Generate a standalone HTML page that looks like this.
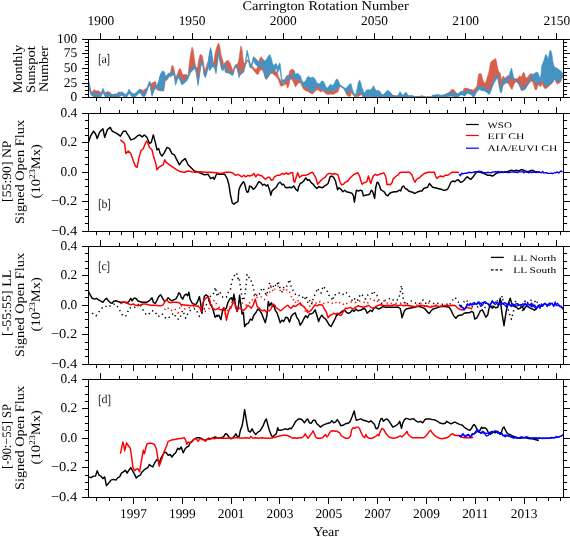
<!DOCTYPE html>
<html><head><meta charset="utf-8"><style>html,body{margin:0;padding:0;background:#fff;}body{width:570px;height:537px;overflow:hidden;}svg{will-change:transform;text-rendering:geometricPrecision;}</style></head><body>
<svg width="570" height="537" viewBox="0 0 570 537" style="font-family:'Liberation Serif',serif;display:block">
<rect width="570" height="537" fill="#fff"/>
<clipPath id="cpa"><rect x="88.5" y="39.08" width="475.0" height="58.84"/></clipPath>
<clipPath id="cpb"><rect x="88.5" y="113.42" width="475.0" height="117.67999999999999"/></clipPath>
<clipPath id="cpc"><rect x="88.5" y="246.42" width="475.0" height="117.68000000000004"/></clipPath>
<clipPath id="cpd"><rect x="88.5" y="379.42" width="475.0" height="117.68"/></clipPath>
<g clip-path="url(#cpa)">
<polygon points="88.5,82.7 89.0,83.9 89.5,86.3 90.0,88.7 90.5,91.0 91.0,93.3 91.5,93.5 92.0,92.5 92.5,91.5 93.0,90.7 93.5,90.2 94.0,89.7 94.5,89.8 95.0,90.2 95.5,90.5 96.0,90.8 96.5,90.8 97.0,90.8 97.5,90.8 98.0,90.8 98.5,90.8 99.0,91.2 99.5,91.5 100.0,91.8 100.5,92.3 101.0,93.1 101.5,93.8 102.0,92.4 102.5,90.7 103.0,90.0 103.5,91.3 104.0,92.5 104.5,92.9 105.0,92.8 105.5,92.6 106.0,92.3 106.5,92.1 107.0,91.8 107.5,91.6 108.0,91.5 108.5,91.7 109.0,91.8 109.5,92.0 110.0,92.6 110.5,93.3 111.0,94.0 111.5,94.1 112.0,94.3 112.5,94.5 113.0,94.6 113.5,94.6 114.0,94.7 114.5,94.8 115.0,94.8 115.5,94.7 116.0,94.7 116.5,94.6 117.0,94.6 117.5,93.8 118.0,92.8 118.5,91.7 119.0,91.7 119.5,92.0 120.0,92.5 120.5,93.1 121.0,93.7 121.5,93.8 122.0,93.6 122.5,93.9 123.0,94.3 123.5,94.6 124.0,94.8 124.5,95.0 125.0,95.2 125.5,95.4 126.0,95.5 126.5,95.2 127.0,94.9 127.5,94.2 128.0,93.2 128.5,92.0 129.0,90.8 129.5,91.6 130.0,92.3 130.5,93.1 131.0,93.8 131.5,94.1 132.0,94.3 132.5,94.3 133.0,94.3 133.5,94.3 134.0,94.3 134.5,94.3 135.0,93.9 135.5,93.5 136.0,93.0 136.5,92.6 137.0,92.1 137.5,91.7 138.0,91.2 138.5,90.8 139.0,90.3 139.5,89.9 140.0,89.5 140.5,89.2 141.0,89.1 141.5,89.6 142.0,90.1 142.5,90.6 143.0,90.6 143.5,90.3 144.0,89.9 144.5,89.6 145.0,89.3 145.5,88.9 146.0,88.6 146.5,88.2 147.0,87.7 147.5,87.2 148.0,86.7 148.5,85.2 149.0,83.9 149.5,83.4 150.0,82.9 150.5,84.2 151.0,83.8 151.5,83.5 152.0,83.1 152.5,82.8 153.0,82.5 153.5,82.3 154.0,82.1 154.5,81.8 155.0,81.9 155.5,82.0 156.0,82.1 156.0,84.1 156.5,85.7 157.0,86.8 157.5,85.8 158.0,84.8 158.5,83.8 159.0,82.3 159.5,80.3 160.0,78.3 160.5,76.3 161.0,75.2 161.5,74.4 162.0,73.5 162.5,72.8 163.0,72.9 163.5,73.1 164.0,73.3 164.5,74.0 165.0,76.0 165.5,78.0 166.0,77.9 166.5,77.4 167.0,76.9 167.5,76.1 168.0,75.4 168.5,75.0 169.0,74.8 169.5,74.7 170.0,73.8 170.5,72.3 171.0,69.8 171.5,67.0 172.0,65.4 172.5,65.6 173.0,65.9 173.5,67.4 174.0,69.2 174.5,71.3 175.0,74.1 175.5,76.8 176.0,76.4 176.5,75.7 177.0,74.7 177.5,73.4 178.0,72.0 178.5,70.7 179.0,69.8 179.5,69.0 180.0,68.5 180.5,69.3 181.0,70.0 181.5,71.5 182.0,73.2 182.5,74.6 183.0,74.6 183.5,74.6 184.0,74.6 184.5,74.6 185.0,74.6 185.5,74.6 186.0,74.6 186.5,74.6 187.0,75.3 187.5,76.8 188.0,76.8 188.5,71.7 189.0,65.7 189.5,62.0 190.0,58.3 190.5,54.7 191.0,52.2 191.5,49.7 192.0,47.2 192.5,47.9 193.0,49.7 193.5,52.0 194.0,56.0 194.5,60.0 195.0,62.9 195.5,65.4 196.0,67.3 196.5,67.7 197.0,68.1 197.5,67.5 198.0,64.5 198.5,61.5 199.0,58.9 199.5,56.4 200.0,54.7 200.5,54.7 201.0,54.7 201.5,54.9 202.0,55.5 202.5,56.9 203.0,59.9 203.5,62.9 204.0,65.9 204.5,68.9 205.0,70.4 205.5,68.9 206.0,67.4 206.5,65.9 207.0,64.4 207.5,63.0 208.0,62.0 208.5,61.0 209.0,57.4 209.5,54.2 210.0,51.4 210.5,49.3 211.0,51.1 211.5,52.8 212.0,56.9 212.5,62.0 213.0,62.7 213.5,63.3 214.0,60.2 214.5,56.7 215.0,53.8 215.5,51.8 216.0,49.8 216.5,47.8 217.0,46.4 217.5,45.2 218.0,44.1 218.5,42.9 219.0,44.0 219.5,45.3 220.0,47.6 220.5,51.1 221.0,54.6 221.5,56.3 222.0,58.0 222.5,59.6 223.0,61.4 223.5,63.6 224.0,65.7 224.5,64.9 225.0,64.4 225.0,63.1 225.5,62.4 226.0,61.6 226.5,60.9 227.0,60.7 227.5,60.6 228.0,60.4 228.5,60.5 229.0,61.4 229.5,62.2 230.0,63.0 230.5,64.1 231.0,65.5 231.5,66.8 232.0,68.1 232.5,69.6 233.0,71.1 233.5,71.5 234.0,69.5 234.5,67.5 235.0,66.6 235.5,65.9 236.0,65.3 236.5,64.6 237.0,64.1 237.5,63.6 238.0,63.1 238.5,61.6 239.0,58.4 239.5,55.1 240.0,51.5 240.5,47.7 241.0,46.0 241.5,47.7 242.0,49.5 242.5,53.6 243.0,58.1 243.5,61.4 244.0,62.5 244.5,63.7 245.0,64.9 245.5,64.3 246.0,62.8 246.5,61.3 247.0,59.8 247.5,60.0 248.0,60.3 248.5,60.6 249.0,61.1 249.5,62.3 250.0,63.4 250.5,64.6 251.0,65.4 251.5,65.8 252.0,66.1 252.5,66.4 253.0,66.9 253.5,67.4 254.0,67.9 254.5,68.4 255.0,68.7 255.5,69.0 256.0,69.4 256.5,69.3 257.0,68.0 257.5,66.7 258.0,65.3 258.5,63.5 259.0,61.3 259.5,59.0 260.0,58.4 260.5,57.7 261.0,57.0 261.5,56.8 262.0,57.8 262.5,58.8 263.0,59.6 263.5,60.4 264.0,61.4 264.5,63.0 265.0,64.7 265.5,66.4 266.0,67.7 266.5,68.7 267.0,69.7 267.5,70.7 268.0,70.9 268.5,70.9 269.0,70.8 269.5,70.4 270.0,70.1 270.5,69.8 271.0,69.2 271.5,68.6 272.0,67.9 272.5,67.2 273.0,67.6 273.5,68.1 274.0,68.7 274.5,69.7 275.0,70.7 275.5,71.2 276.0,71.5 276.5,71.8 277.0,72.3 277.5,73.6 278.0,75.0 278.5,76.3 279.0,77.5 279.5,78.5 280.0,79.5 280.5,80.5 281.0,81.3 281.5,81.9 282.0,82.6 282.5,83.3 283.0,83.6 283.5,83.8 284.0,83.4 284.5,82.2 285.0,80.9 285.5,79.0 286.0,77.0 286.5,76.3 287.0,77.3 287.5,78.3 288.0,79.3 288.5,77.5 289.0,74.5 289.5,71.9 290.0,70.9 290.5,69.9 291.0,69.5 291.5,69.3 292.0,69.2 292.5,69.0 293.0,69.5 293.5,70.0 294.0,70.9 294.0,76.9 294.5,77.9 295.0,79.4 295.5,80.8 296.0,80.3 296.5,79.8 297.0,79.6 297.5,79.6 298.0,79.6 298.5,79.6 299.0,79.9 299.5,80.2 300.0,80.5 300.5,80.9 301.0,81.9 301.5,82.9 302.0,83.7 302.5,84.4 303.0,85.0 303.5,85.7 304.0,86.1 304.5,86.4 305.0,86.8 305.5,87.1 306.0,87.4 306.5,87.8 307.0,88.1 307.5,88.5 308.0,89.0 308.5,89.5 309.0,89.8 309.5,90.2 310.0,90.5 310.5,90.8 311.0,91.2 311.5,91.5 312.0,91.8 312.5,91.9 313.0,91.6 313.5,91.3 314.0,90.9 314.5,89.5 315.0,87.5 315.5,85.8 316.0,85.8 316.5,85.8 317.0,86.2 317.5,86.7 318.0,87.1 318.5,87.5 319.0,87.8 319.5,88.1 320.0,88.6 320.5,89.3 321.0,89.9 321.5,90.6 322.0,90.6 322.5,90.2 323.0,89.9 323.5,89.6 324.0,89.1 324.5,88.6 325.0,88.8 325.5,89.8 326.0,90.8 326.5,91.3 327.0,91.8 327.5,91.9 328.0,91.6 328.5,91.2 329.0,90.9 329.5,90.8 330.0,90.8 330.5,90.9 331.0,91.0 331.5,91.2 332.0,91.4 332.5,91.3 333.0,91.2 333.5,91.0 334.0,90.8 334.5,90.5 335.0,90.2 335.5,89.9 336.0,89.5 336.5,89.3 337.0,89.0 337.5,88.7 338.0,88.2 338.5,87.6 339.0,86.9 339.5,86.1 340.0,86.0 340.5,86.4 341.0,86.2 341.5,85.9 342.0,86.2 342.5,86.7 343.0,87.2 343.5,87.7 344.0,88.2 344.5,89.6 345.0,90.4 345.5,91.1 346.0,91.7 346.5,92.4 347.0,93.1 347.5,93.1 348.0,92.8 348.5,92.4 349.0,92.1 349.5,91.2 350.0,90.2 350.5,89.2 351.0,88.6 351.5,90.1 352.0,91.6 352.5,92.7 353.0,93.7 353.5,94.6 354.0,95.1 354.5,95.6 355.0,95.7 355.5,95.6 356.0,95.5 356.5,95.1 357.0,94.7 357.5,94.0 358.0,93.3 358.5,92.7 359.0,93.0 359.5,93.2 360.0,93.5 360.5,93.7 361.0,94.0 361.5,94.2 362.0,94.5 362.5,94.5 363.0,94.5 432.0,96.9 432.5,96.8 433.0,96.8 433.5,96.7 434.0,96.7 434.5,96.6 435.0,96.5 435.5,96.5 436.0,96.4 436.5,96.4 437.0,96.2 437.5,96.1 438.0,96.1 438.5,96.3 439.0,96.5 439.5,96.6 440.0,96.4 440.5,96.2 441.0,96.0 441.5,95.8 442.0,95.6 442.5,95.4 443.0,95.2 443.5,95.0 444.0,94.8 444.5,94.6 445.0,94.4 445.5,94.1 446.0,93.9 446.5,93.6 447.0,93.4 447.5,93.1 448.0,92.9 448.5,92.6 449.0,92.4 449.5,92.1 450.0,91.6 450.5,91.0 451.0,90.3 451.5,89.6 452.0,89.5 452.5,89.4 453.0,89.3 453.5,89.6 454.0,90.1 454.5,90.6 455.0,91.3 455.5,91.9 456.0,92.6 456.5,93.3 457.0,93.6 457.5,93.9 458.0,94.3 458.5,94.5 459.0,94.1 459.5,93.7 460.0,93.3 460.5,93.0 461.0,92.6 461.5,92.5 462.0,92.3 462.5,92.1 463.0,91.3 463.5,89.8 464.0,88.3 464.5,88.3 465.0,88.2 465.5,88.1 466.0,88.1 466.5,88.2 467.0,88.2 467.5,88.3 468.0,88.5 468.5,88.7 469.0,89.0 469.5,89.3 470.0,89.4 470.5,89.4 471.0,89.5 471.5,89.6 472.0,89.7 472.5,89.9 473.0,90.1 473.5,90.0 474.0,89.5 474.5,89.0 475.0,88.5 475.5,87.9 476.0,87.3 476.5,86.6 477.0,85.9 477.5,82.1 478.0,77.6 478.5,74.5 479.0,74.1 479.5,73.6 480.0,73.4 480.5,73.6 481.0,73.8 481.5,74.2 482.0,76.5 482.5,78.7 483.0,80.3 483.5,81.5 484.0,82.6 484.5,83.2 485.0,82.8 485.5,82.3 486.0,81.4 486.5,79.8 487.0,78.1 487.5,76.4 488.0,74.9 488.5,73.4 489.0,71.6 489.5,68.6 490.0,65.5 490.5,62.4 491.0,61.8 491.5,61.4 492.0,60.9 492.5,60.6 493.0,60.3 493.5,59.9 494.0,59.6 494.5,59.2 495.0,58.8 495.5,58.4 496.0,59.8 496.5,61.5 497.0,64.5 497.5,67.5 498.0,69.5 498.5,71.0 499.0,72.2 499.5,72.4 500.0,72.7 500.5,73.7 500.5,74.6 501.0,77.1 501.5,79.6 502.0,78.6 502.5,77.6 503.0,76.6 503.5,76.1 504.0,77.1 504.5,78.1 505.0,78.1 505.5,77.8 506.0,77.4 506.5,77.1 507.0,76.3 507.5,75.6 508.0,75.5 508.5,76.0 509.0,76.5 509.5,77.0 510.0,77.1 510.5,77.1 511.0,77.1 511.5,77.1 512.0,77.5 512.5,77.9 513.0,78.3 513.5,78.6 514.0,79.0 514.5,78.9 515.0,78.8 515.5,78.7 516.0,78.6 516.5,78.5 517.0,78.5 517.5,78.4 518.0,77.9 518.5,77.3 519.0,76.6 519.5,75.9 520.0,76.2 520.5,76.5 521.0,76.8 521.5,76.9 522.0,75.6 522.5,74.2 523.0,72.9 523.5,72.3 524.0,72.8 524.5,73.3 525.0,75.2 525.5,77.2 526.0,78.2 526.5,77.9 527.0,77.5 527.5,77.2 528.0,76.6 528.5,76.0 529.0,75.3 529.5,74.6 530.0,74.3 530.5,74.0 531.0,73.6 531.5,73.5 532.0,74.0 532.5,74.5 533.0,75.4 533.5,76.4 534.0,77.4 534.5,78.4 535.0,79.0 535.5,79.7 536.0,80.4 536.5,80.8 537.0,80.8 537.5,80.8 538.0,80.8 538.5,80.8 539.0,80.8 539.5,80.8 540.0,80.8 540.5,80.8 541.0,80.8 541.5,80.8 542.0,80.7 542.5,80.5 543.0,80.4 543.5,80.2 544.0,80.1 544.5,79.9 545.0,79.8 545.5,79.6 546.0,79.5 546.5,79.3 547.0,79.2 547.5,79.0 548.0,78.9 548.5,78.7 549.0,78.6 549.5,78.4 550.0,78.3 550.5,78.2 551.0,78.0 551.5,77.9 552.0,77.7 552.5,77.6 553.0,77.4 553.5,77.3 554.0,77.1 554.5,77.0 555.0,76.8 555.5,76.7 556.0,76.5 556.5,76.4 557.0,76.2 557.5,76.1 558.0,75.9 558.5,75.8 559.0,75.7 559.5,75.5 560.0,75.4 560.5,75.2 561.0,75.1 561.5,74.9 562.0,74.8 562.5,74.6 563.0,74.6 563.5,74.6 563.5,77.1 563.0,77.1 562.5,77.2 562.0,78.2 561.5,79.6 561.0,81.1 560.5,82.2 560.0,82.5 559.5,82.9 559.0,83.2 558.5,83.4 558.0,83.6 557.5,83.8 557.0,83.9 556.5,83.1 556.0,82.1 555.5,81.1 555.0,80.1 554.5,79.1 554.0,80.1 553.5,81.3 553.0,82.3 552.5,82.8 552.0,83.3 551.5,83.8 551.0,84.3 550.5,84.8 550.0,85.3 549.5,85.8 549.0,86.1 548.5,86.5 548.0,86.8 547.5,87.2 547.0,87.7 546.5,88.2 546.0,88.7 545.5,88.8 545.0,88.6 544.5,88.3 544.0,87.4 543.5,86.4 543.0,85.4 542.5,84.4 542.0,83.4 541.5,84.8 541.0,86.3 540.5,86.8 540.0,86.3 539.5,85.8 539.0,85.3 538.5,84.8 538.0,85.3 537.5,86.8 537.0,88.3 536.5,89.8 536.0,90.0 535.5,89.8 535.0,89.2 534.5,87.5 534.0,85.8 533.5,84.2 533.0,82.8 532.5,81.8 532.0,80.8 531.5,81.2 531.0,81.5 530.5,81.8 530.0,82.3 529.5,82.9 529.0,83.6 528.5,84.3 528.0,84.9 527.5,85.6 527.0,86.3 526.5,86.9 526.0,87.6 525.5,88.3 525.0,88.9 524.5,89.6 524.0,89.9 523.5,90.3 523.0,90.6 522.5,90.6 522.0,89.9 521.5,89.3 521.0,88.6 520.5,87.7 520.0,86.7 519.5,85.7 519.0,84.7 518.5,84.0 518.0,83.3 517.5,82.7 517.0,82.1 516.5,82.1 516.0,82.1 515.5,82.1 515.0,82.5 514.5,83.5 514.0,84.5 513.5,85.5 513.0,86.8 512.5,88.3 512.0,89.5 511.5,89.0 511.0,88.5 510.5,87.6 510.0,86.6 509.5,85.6 509.0,84.6 508.5,84.1 508.0,83.6 507.5,83.1 507.0,82.7 506.5,82.9 506.0,83.1 505.5,83.2 505.0,83.6 504.5,84.1 504.0,84.6 503.5,85.1 503.0,85.6 502.5,86.5 502.0,87.8 501.5,89.1 501.0,90.5 500.5,89.8 500.5,90.8 500.0,88.8 499.5,86.8 499.0,83.9 498.5,80.1 498.0,78.0 497.5,77.2 497.0,76.5 496.5,77.3 496.0,78.0 495.5,78.8 495.0,79.6 494.5,80.5 494.0,81.3 493.5,82.4 493.0,83.6 492.5,84.7 492.0,85.9 491.5,87.4 491.0,88.9 490.5,90.4 490.0,91.6 489.5,92.1 489.0,92.6 488.5,92.3 488.0,91.8 487.5,91.3 487.0,90.8 486.5,90.4 486.0,90.1 485.5,89.8 485.0,89.5 484.5,89.3 484.0,89.2 483.5,89.0 483.0,88.9 482.5,88.9 482.0,88.9 481.5,88.9 481.0,88.6 480.5,88.2 480.0,87.8 479.5,87.8 479.0,88.0 478.5,88.2 478.0,88.8 477.5,89.4 477.0,90.1 476.5,90.8 476.0,91.7 475.5,92.7 475.0,93.6 474.5,94.4 474.0,95.0 473.5,95.6 473.0,95.3 472.5,94.5 472.0,93.8 471.5,93.4 471.0,93.0 470.5,92.6 470.0,92.4 469.5,92.2 469.0,92.1 468.5,91.9 468.0,91.7 467.5,91.5 467.0,91.9 466.5,92.5 466.0,93.1 465.5,93.6 465.0,94.0 464.5,94.4 464.0,94.3 463.5,93.9 463.0,93.5 462.5,93.3 462.0,93.2 461.5,93.1 461.0,93.1 460.5,93.4 460.0,93.8 459.5,94.2 459.0,94.6 458.5,94.9 458.0,95.2 457.5,95.6 457.0,95.8 456.5,95.6 456.0,95.5 455.5,95.4 455.0,95.3 454.5,95.1 454.0,95.0 453.5,94.9 453.0,94.8 452.5,94.6 452.0,94.5 451.5,94.5 451.0,94.5 450.5,94.5 450.0,94.5 449.5,94.6 449.0,94.8 448.5,95.0 448.0,95.2 447.5,95.4 447.0,95.6 446.5,95.8 446.0,95.9 445.5,96.1 445.0,96.3 444.5,96.4 444.0,96.6 443.5,96.8 443.0,96.8 442.5,96.8 442.0,96.8 441.5,96.8 441.0,96.8 440.5,96.8 440.0,96.8 439.5,96.7 439.0,96.8 438.5,97.0 438.0,96.9 437.5,96.8 437.0,96.7 436.5,96.5 436.0,96.5 435.5,96.6 435.0,96.7 434.5,96.8 434.0,96.8 433.5,96.9 433.0,96.9 432.5,96.9 432.0,97.0 363.0,95.9 362.5,95.6 362.0,95.3 361.5,95.0 361.0,94.6 360.5,94.9 360.0,95.4 359.5,95.9 359.0,96.4 358.5,96.5 358.0,96.6 357.5,96.6 357.0,96.7 356.5,96.8 356.0,96.8 355.5,96.8 355.0,96.8 354.5,96.6 354.0,96.0 353.5,95.4 353.0,94.8 352.5,94.0 352.0,93.0 351.5,92.2 351.0,94.0 350.5,95.7 350.0,96.4 349.5,96.4 349.0,96.4 348.5,96.4 348.0,96.0 347.5,95.5 347.0,95.0 346.5,94.4 346.0,93.4 345.5,92.4 345.0,91.1 344.5,89.7 344.0,89.1 343.5,88.4 343.0,88.0 342.5,87.7 342.0,87.4 341.5,87.0 341.0,86.7 340.5,86.5 340.0,86.9 339.5,87.6 339.0,89.0 338.5,90.3 338.0,91.6 337.5,92.2 337.0,92.5 336.5,92.7 336.0,93.0 335.5,93.2 335.0,93.5 334.5,93.7 334.0,94.0 333.5,94.2 333.0,94.5 332.5,94.5 332.0,94.3 331.5,94.2 331.0,94.1 330.5,94.0 330.0,94.0 329.5,94.1 329.0,94.3 328.5,94.4 328.0,94.5 327.5,94.4 327.0,94.1 326.5,93.9 326.0,93.6 325.5,93.4 325.0,92.9 324.5,92.4 324.0,91.9 323.5,91.4 323.0,90.9 322.5,91.0 322.0,91.3 321.5,91.5 321.0,91.8 320.5,92.0 320.0,91.6 319.5,91.1 319.0,90.6 318.5,90.1 318.0,89.6 317.5,89.8 317.0,90.0 316.5,90.3 316.0,90.5 315.5,90.8 315.0,91.3 314.5,92.0 314.0,92.6 313.5,93.2 313.0,93.8 312.5,93.8 312.0,93.7 311.5,93.6 311.0,93.4 310.5,93.3 310.0,93.0 309.5,92.6 309.0,92.2 308.5,91.8 308.0,91.5 307.5,91.3 307.0,91.2 306.5,91.1 306.0,90.9 305.5,90.8 305.0,90.4 304.5,89.9 304.0,89.4 303.5,88.9 303.0,88.4 302.5,87.3 302.0,86.1 301.5,85.0 301.0,83.9 300.5,82.8 300.0,82.8 299.5,83.0 299.0,83.1 298.5,83.2 298.0,83.3 297.5,84.1 297.0,84.8 296.5,85.6 296.0,86.3 295.5,87.1 295.0,86.1 294.5,85.1 294.0,84.1 294.0,83.5 293.5,82.7 293.0,81.6 292.5,80.4 292.0,79.2 291.5,79.1 291.0,79.3 290.5,79.4 290.0,79.7 289.5,82.2 289.0,84.7 288.5,86.4 288.0,87.4 287.5,88.2 287.0,86.5 286.5,84.7 286.0,84.1 285.5,84.3 285.0,84.6 284.5,84.8 284.0,85.1 283.5,85.3 283.0,85.6 282.5,85.8 282.0,86.0 281.5,86.2 281.0,86.3 280.5,85.9 280.0,84.4 279.5,82.9 279.0,81.4 278.5,80.2 278.0,79.2 277.5,78.2 277.0,77.2 276.5,76.8 276.0,76.5 275.5,76.1 275.0,75.8 274.5,75.3 274.0,74.8 273.5,74.3 273.0,73.8 272.5,73.4 272.0,73.4 271.5,73.4 271.0,73.4 270.5,73.7 270.0,74.3 269.5,75.0 269.0,75.7 268.5,76.4 268.0,77.3 267.5,78.1 267.0,78.9 266.5,79.2 266.0,79.5 265.5,78.8 265.0,77.2 264.5,75.5 264.0,73.8 263.5,72.5 263.0,71.2 262.5,70.2 262.0,69.9 261.5,69.7 261.0,69.9 260.5,70.2 260.0,70.5 259.5,70.9 259.0,72.4 258.5,73.9 258.0,74.5 257.5,74.4 257.0,74.2 256.5,74.0 256.0,73.5 255.5,72.8 255.0,72.1 254.5,71.5 254.0,70.8 253.5,70.1 253.0,69.5 252.5,68.9 252.0,68.4 251.5,67.9 251.0,67.4 250.5,66.4 250.0,65.1 249.5,63.7 249.0,62.4 248.5,61.9 248.0,61.5 247.5,61.2 247.0,61.0 246.5,62.5 246.0,64.0 245.5,65.5 245.0,66.9 244.5,68.1 244.0,69.3 243.5,70.4 243.0,71.4 242.5,72.2 242.0,73.1 241.5,73.9 241.0,74.4 240.5,74.9 240.0,75.4 239.5,75.7 239.0,74.7 238.5,73.7 238.0,72.3 237.5,70.6 237.0,69.0 236.5,67.3 236.0,67.4 235.5,67.8 235.0,68.1 234.5,68.8 234.0,71.3 233.5,73.8 233.0,74.4 232.5,74.2 232.0,73.9 231.5,73.7 231.0,73.4 230.5,73.3 230.0,73.2 229.5,73.0 229.0,72.9 228.5,72.8 228.0,72.7 227.5,72.7 227.0,72.7 226.5,72.7 226.0,72.7 225.5,72.4 225.0,71.9 225.0,69.9 224.5,67.9 224.0,66.7 223.5,68.4 223.0,68.6 222.5,68.9 222.0,68.3 221.5,67.1 221.0,65.8 220.5,63.0 220.0,60.3 219.5,57.5 219.0,54.8 218.5,52.4 218.0,56.4 217.5,60.4 217.0,64.4 216.5,68.4 216.0,72.0 215.5,70.0 215.0,68.0 214.5,66.7 214.0,66.0 213.5,65.2 213.0,63.9 212.5,62.3 212.0,61.3 211.5,60.7 211.0,60.0 210.5,59.3 210.0,58.7 209.5,59.0 209.0,60.0 208.5,61.4 208.0,65.4 207.5,68.1 207.0,70.6 206.5,72.7 206.0,74.2 205.5,75.7 205.0,75.4 204.5,74.9 204.0,73.0 203.5,69.0 203.0,65.0 202.5,63.5 202.0,62.3 201.5,62.5 201.0,64.7 200.5,67.0 200.0,70.4 199.5,73.9 199.0,77.3 198.5,80.5 198.0,83.8 197.5,80.4 197.0,76.6 196.5,73.4 196.0,70.6 195.5,67.9 195.0,67.5 194.5,67.3 194.0,67.4 193.5,67.9 193.0,68.4 192.5,68.9 192.0,69.4 191.5,69.9 191.0,70.4 190.5,70.9 190.0,72.0 189.5,73.2 189.0,74.3 188.5,75.6 188.0,78.3 187.5,78.1 187.0,78.7 186.5,79.2 186.0,79.7 185.5,80.2 185.0,80.7 184.5,81.2 184.0,81.7 183.5,82.2 183.0,82.5 182.5,82.9 182.0,83.2 181.5,82.6 181.0,81.3 180.5,79.9 180.0,78.6 179.5,77.8 179.0,77.1 178.5,76.5 178.0,76.0 177.5,77.5 177.0,79.0 176.5,80.6 176.0,82.4 175.5,83.5 175.0,79.3 174.5,75.0 174.0,73.4 173.5,73.4 173.0,73.4 172.5,73.7 172.0,73.9 171.5,74.3 171.0,74.8 170.5,75.2 170.0,75.0 169.5,75.3 169.0,76.5 168.5,77.5 168.0,78.5 167.5,79.2 167.0,80.0 166.5,80.4 166.0,80.8 165.5,81.1 165.0,81.4 164.5,85.2 164.0,89.2 163.5,91.3 163.0,91.1 162.5,90.8 162.0,90.8 161.5,90.8 161.0,90.8 160.5,90.8 160.0,90.8 159.5,90.7 159.0,90.6 158.5,90.4 158.0,90.3 157.5,90.2 157.0,88.0 156.5,87.3 156.0,87.7 156.0,86.5 155.5,86.8 155.0,87.3 154.5,88.3 154.0,89.3 153.5,90.3 153.0,91.6 152.5,93.1 152.0,94.5 151.5,92.0 151.0,89.5 150.5,85.9 150.0,84.7 149.5,85.2 149.0,85.7 148.5,86.2 148.0,86.7 147.5,88.2 147.0,89.7 146.5,90.9 146.0,92.2 145.5,93.5 145.0,94.4 144.5,94.6 144.0,94.8 143.5,95.1 143.0,94.9 142.5,94.4 142.0,93.9 141.5,93.4 141.0,92.4 140.5,91.4 140.0,90.9 139.5,91.2 139.0,91.4 138.5,91.9 138.0,92.5 137.5,93.1 137.0,93.6 136.5,94.0 136.0,94.5 135.5,94.9 135.0,95.2 134.5,95.3 134.0,95.4 133.5,95.5 133.0,95.4 132.5,95.1 132.0,94.8 131.5,94.6 131.0,93.9 130.5,93.7 130.0,93.5 129.5,93.4 129.0,93.7 128.5,94.0 128.0,94.4 127.5,94.7 127.0,94.9 126.5,95.6 126.0,96.2 125.5,96.2 125.0,95.8 124.5,95.5 124.0,95.2 123.5,94.7 123.0,94.5 122.5,94.4 122.0,94.4 121.5,94.3 121.0,94.0 120.5,94.2 120.0,94.5 119.5,94.8 119.0,95.1 118.5,95.5 118.0,95.5 117.5,95.5 117.0,95.5 116.5,95.5 116.0,95.6 115.5,95.7 115.0,95.7 114.5,95.8 114.0,96.0 113.5,96.2 113.0,96.3 112.5,96.4 112.0,96.3 111.5,96.2 111.0,96.1 110.5,95.7 110.0,95.3 109.5,94.9 109.0,94.6 108.5,94.8 108.0,95.1 107.5,95.4 107.0,95.5 106.5,95.4 106.0,95.3 105.5,95.2 105.0,94.6 104.5,93.6 104.0,93.1 103.5,93.3 103.0,93.4 102.5,93.6 102.0,93.8 101.5,94.0 101.0,94.7 100.5,95.3 100.0,95.6 99.5,95.7 99.0,95.7 98.5,95.8 98.0,95.6 97.5,95.5 97.0,95.3 96.5,95.2 96.0,95.3 95.5,95.4 95.0,95.5 94.5,95.4 94.0,95.2 93.5,94.9 93.0,94.6 92.5,94.3 92.0,94.0 91.5,93.6 91.0,94.5 90.5,93.2 90.0,91.8 89.5,90.4 89.0,89.0 88.5,88.3" fill="#d6604d" stroke="#d6604d" stroke-width="0.6" stroke-linejoin="round"/>
<polygon points="362.0,94.5 364.5,95.5 367.0,96.8 362.0,96.8" fill="#d6604d"/>
<polygon points="372.6,96.4 375.7,94.8 377.6,94.3 379.4,95.8 379.4,96.8 372.6,96.8" fill="#d6604d"/>
<polygon points="383.8,95.5 385.0,94.5 386.3,95.8 386.3,96.8 383.8,96.8" fill="#d6604d"/>
<polygon points="416.8,96.8 419.9,95.8 422.4,95.2 424.3,96.4 424.3,97.0 416.8,97.0" fill="#d6604d"/>
<polygon points="88.5,80.9 89.0,82.1 89.5,84.5 90.0,86.9 90.5,89.2 91.0,91.5 91.5,91.8 92.0,92.2 92.5,92.5 93.0,92.8 93.5,93.1 94.0,93.4 94.5,93.6 95.0,93.7 95.5,93.6 96.0,93.5 96.5,93.4 97.0,93.5 97.5,93.7 98.0,93.8 98.5,94.0 99.0,93.9 99.5,93.9 100.0,93.8 100.5,93.5 101.0,92.9 101.5,92.2 102.0,90.6 102.5,88.9 103.0,88.2 103.5,89.5 104.0,90.7 104.5,91.8 105.0,92.8 105.5,93.4 106.0,93.5 106.5,93.6 107.0,93.7 107.5,93.6 108.0,93.3 108.5,93.0 109.0,92.8 109.5,93.1 110.0,93.5 110.5,93.9 111.0,94.3 111.5,94.4 112.0,94.5 112.5,94.6 113.0,94.5 113.5,94.4 114.0,94.2 114.5,94.0 115.0,93.9 115.5,93.9 116.0,93.8 116.5,93.7 117.0,93.7 117.5,93.7 118.0,93.7 118.5,93.7 119.0,93.3 119.5,93.0 120.0,92.7 120.5,92.4 121.0,92.2 121.5,92.0 122.0,91.8 122.5,92.1 123.0,92.5 123.5,92.9 124.0,93.4 124.5,93.7 125.0,94.0 125.5,94.4 126.0,94.4 126.5,93.8 127.0,93.1 127.5,92.4 128.0,91.4 128.5,90.2 129.0,89.0 129.5,89.8 130.0,90.5 130.5,91.3 131.0,92.0 131.5,92.8 132.0,93.0 132.5,93.3 133.0,93.6 133.5,93.7 134.0,93.6 134.5,93.5 135.0,93.4 135.5,93.1 136.0,92.7 136.5,92.2 137.0,91.8 137.5,91.3 138.0,90.7 138.5,90.1 139.0,89.6 139.5,89.4 140.0,89.1 140.5,89.6 141.0,90.6 141.5,91.6 142.0,92.1 142.5,92.6 143.0,93.1 143.5,93.3 144.0,93.0 144.5,92.8 145.0,92.6 145.5,91.7 146.0,90.4 146.5,89.1 147.0,87.9 147.5,86.4 148.0,84.9 148.5,83.4 149.0,82.1 149.5,81.6 150.0,81.1 150.5,84.1 151.0,87.7 151.5,90.2 152.0,92.7 152.5,91.3 153.0,89.8 153.5,88.5 154.0,87.5 154.5,86.5 155.0,85.5 155.5,85.0 156.0,84.7 156.0,85.9 156.5,85.5 157.0,85.0 157.5,84.0 158.0,83.0 158.5,82.0 159.0,80.5 159.5,78.5 160.0,76.5 160.5,74.5 161.0,73.4 161.5,72.6 162.0,71.7 162.5,71.0 163.0,71.1 163.5,71.3 164.0,71.5 164.5,72.2 165.0,74.2 165.5,76.2 166.0,76.1 166.5,75.6 167.0,75.1 167.5,74.3 168.0,73.6 168.5,73.2 169.0,73.0 169.5,72.9 170.0,73.2 170.5,73.4 171.0,73.0 171.5,72.5 172.0,72.1 172.5,71.9 173.0,71.6 173.5,71.6 174.0,71.6 174.5,73.2 175.0,77.5 175.5,81.7 176.0,80.6 176.5,78.8 177.0,77.2 177.5,75.7 178.0,74.2 178.5,74.7 179.0,75.3 179.5,76.0 180.0,76.8 180.5,78.1 181.0,79.5 181.5,80.8 182.0,81.4 182.5,81.1 183.0,80.7 183.5,80.4 184.0,79.9 184.5,79.4 185.0,78.9 185.5,78.4 186.0,77.9 186.5,77.4 187.0,76.9 187.5,76.3 188.0,75.0 188.5,73.8 189.0,72.5 189.5,71.4 190.0,70.2 190.5,69.1 191.0,68.6 191.5,68.1 192.0,67.6 192.5,67.1 193.0,66.6 193.5,66.1 194.0,65.6 194.5,65.5 195.0,65.7 195.5,66.1 196.0,68.8 196.5,71.6 197.0,74.8 197.5,78.6 198.0,82.0 198.5,78.7 199.0,75.5 199.5,72.1 200.0,68.6 200.5,65.2 201.0,62.9 201.5,60.7 202.0,60.5 202.5,61.7 203.0,63.2 203.5,67.2 204.0,71.2 204.5,73.1 205.0,73.6 205.5,73.9 206.0,72.4 206.5,70.9 207.0,68.8 207.5,66.3 208.0,63.6 208.5,59.6 209.0,55.6 209.5,52.4 210.0,49.6 210.5,47.5 211.0,49.3 211.5,51.0 212.0,55.1 212.5,60.5 213.0,62.1 213.5,63.4 214.0,64.2 214.5,64.9 215.0,66.2 215.5,68.2 216.0,70.2 216.5,66.6 217.0,62.6 217.5,58.6 218.0,54.6 218.5,50.6 219.0,53.0 219.5,55.7 220.0,58.5 220.5,61.2 221.0,64.0 221.5,65.3 222.0,66.5 222.5,67.1 223.0,66.8 223.5,66.6 224.0,64.9 224.5,63.1 225.0,62.6 225.0,64.5 225.5,65.0 226.0,65.7 226.5,67.2 227.0,68.7 227.5,70.2 228.0,71.0 228.5,71.3 229.0,71.5 229.5,71.8 230.0,72.0 230.5,72.3 231.0,72.5 231.5,72.8 232.0,73.0 232.5,73.3 233.0,72.2 233.5,70.2 234.0,68.2 234.5,66.2 235.0,65.4 235.5,64.8 236.0,64.6 236.5,65.0 237.0,65.5 237.5,66.2 238.0,69.1 238.5,72.0 239.0,74.5 239.5,73.5 240.0,72.5 240.5,72.0 241.0,71.9 241.5,71.7 242.0,71.5 242.5,71.1 243.0,70.6 243.5,70.1 244.0,69.2 244.5,66.2 245.0,63.2 245.5,60.2 246.0,57.0 246.5,53.5 247.0,50.0 247.5,51.5 248.0,53.5 248.5,55.7 249.0,58.2 249.5,60.7 250.0,62.8 250.5,64.8 251.0,65.2 251.5,63.7 252.0,62.2 252.5,60.0 253.0,57.8 253.5,56.7 254.0,57.0 254.5,57.4 255.0,57.7 255.5,58.2 256.0,58.7 256.5,59.2 257.0,59.7 257.5,60.3 258.0,61.0 258.5,61.7 259.0,62.3 259.5,62.8 260.0,63.3 260.5,62.9 261.0,62.2 261.5,61.6 262.0,60.9 262.5,60.5 263.0,60.1 263.5,59.8 264.0,60.0 264.5,60.4 265.0,60.8 265.5,60.4 266.0,59.7 266.5,59.1 267.0,58.4 267.5,57.5 268.0,56.7 268.5,55.9 269.0,55.2 269.5,55.0 270.0,54.7 270.5,55.9 271.0,57.4 271.5,59.1 272.0,61.1 272.5,63.1 273.0,64.2 273.5,65.2 274.0,65.6 274.5,64.9 275.0,64.1 275.5,63.8 276.0,63.6 276.5,64.0 277.0,65.5 277.5,67.0 278.0,66.3 278.5,65.3 279.0,64.2 279.5,62.9 280.0,63.3 280.5,66.1 281.0,71.3 281.5,77.7 282.0,79.2 282.5,80.1 283.0,80.0 283.5,79.7 284.0,79.5 284.5,79.4 285.0,79.2 285.5,79.0 286.0,78.1 286.5,76.9 287.0,75.8 287.5,75.3 288.0,74.8 288.5,75.3 289.0,76.3 289.5,77.0 290.0,76.7 290.5,76.4 291.0,76.0 291.5,75.5 292.0,74.9 292.5,74.2 293.0,73.5 293.5,73.1 294.0,72.8 294.0,70.4 294.5,71.1 295.0,72.9 295.5,74.6 296.0,74.1 296.5,73.6 297.0,73.5 297.5,73.6 298.0,73.8 298.5,74.0 299.0,74.4 299.5,74.9 300.0,75.4 300.5,76.0 301.0,77.7 301.5,79.5 302.0,80.6 302.5,81.3 303.0,81.9 303.5,82.6 304.0,82.3 304.5,81.8 305.0,81.3 305.5,80.8 306.0,79.8 306.5,78.8 307.0,77.8 307.5,77.0 308.0,76.6 308.5,76.2 309.0,76.6 309.5,77.1 310.0,77.6 310.5,78.1 311.0,77.8 311.5,77.5 312.0,77.3 312.5,77.2 313.0,77.3 313.5,77.5 314.0,77.7 314.5,78.2 315.0,79.0 315.5,79.8 316.0,81.0 316.5,82.3 317.0,82.9 317.5,83.1 318.0,83.4 318.5,83.5 319.0,83.7 319.5,83.9 320.0,83.6 320.5,82.8 321.0,81.9 321.5,81.1 322.0,81.0 322.5,81.1 323.0,81.3 323.5,81.5 324.0,82.4 324.5,83.4 325.0,84.5 325.5,85.8 326.0,87.0 326.5,87.6 327.0,88.1 327.5,88.0 328.0,87.3 328.5,86.7 329.0,86.0 329.5,85.3 330.0,84.5 330.5,84.1 331.0,84.6 331.5,85.1 332.0,85.6 332.5,85.6 333.0,85.1 333.5,84.6 334.0,84.1 334.5,83.0 335.0,81.9 335.5,80.7 336.0,79.6 336.5,79.3 337.0,79.1 337.5,79.4 338.0,80.1 338.5,80.9 339.0,82.2 339.5,83.4 340.0,84.3 340.5,85.0 341.0,85.7 341.5,86.3 342.0,86.6 342.5,86.8 343.0,86.9 343.5,87.1 344.0,87.4 344.5,87.8 345.0,88.1 345.5,88.2 346.0,87.9 346.5,87.5 347.0,87.2 347.5,86.7 348.0,86.0 348.5,85.3 349.0,84.7 349.5,84.3 350.0,83.9 350.5,83.6 351.0,83.6 351.5,85.6 352.0,87.6 352.5,89.3 353.0,90.8 353.5,92.2 354.0,93.2 354.5,94.2 355.0,94.4 355.5,94.1 356.0,93.5 356.5,91.2 357.0,89.0 357.5,86.6 358.0,84.1 358.5,81.9 359.0,80.9 359.5,79.9 360.0,80.7 360.5,82.2 361.0,83.8 361.5,85.8 362.0,87.8 362.5,88.8 363.0,89.5 363.0,90.4 363.5,91.3 364.0,92.3 364.5,93.3 365.0,92.5 365.5,91.6 366.0,90.8 366.5,90.1 367.0,90.0 367.5,89.8 368.0,89.6 368.5,89.7 369.0,89.8 369.5,90.0 370.0,90.2 370.5,89.8 371.0,89.3 371.5,88.8 372.0,88.3 372.5,87.3 373.0,86.4 373.5,85.7 374.0,86.8 374.5,87.9 375.0,88.8 375.5,89.5 376.0,90.3 376.5,90.7 377.0,90.6 377.5,90.4 378.0,90.2 378.5,90.4 379.0,90.7 379.5,91.1 380.0,91.4 380.5,92.2 381.0,93.0 381.5,93.8 382.0,94.5 382.5,94.5 383.0,94.5 383.5,94.5 384.0,94.3 384.5,93.6 385.0,92.9 385.5,92.3 386.0,91.7 386.5,91.2 387.0,90.7 387.5,90.2 388.0,90.5 388.5,90.8 389.0,91.2 389.5,91.5 390.0,92.0 390.5,92.5 391.0,93.0 391.5,93.6 392.0,94.2 392.5,94.8 393.0,95.4 393.5,95.7 394.0,95.9 394.5,96.2 395.0,96.4 395.5,96.5 396.0,96.6 396.5,96.7 397.0,96.6 397.5,95.8 398.0,95.1 398.5,94.3 399.0,93.4 399.5,92.4 400.0,91.4 400.5,92.2 401.0,92.9 401.5,93.7 402.0,94.4 402.5,95.2 403.0,94.9 403.5,94.7 404.0,94.2 404.5,93.5 405.0,92.8 405.5,92.3 406.0,92.5 406.5,92.6 407.0,93.5 407.5,94.5 408.0,95.2 408.5,95.4 409.0,95.7 409.5,95.7 410.0,95.6 410.5,95.4 411.0,95.2 411.5,95.3 412.0,95.4 412.5,95.6 413.0,95.9 413.5,96.2 414.0,96.6 414.5,96.8 415.0,96.9 415.5,96.9 416.0,97.0 416.5,97.0 417.0,97.0 417.5,97.0 418.0,97.0 418.5,97.0 419.0,97.0 419.5,97.0 420.0,97.0 420.5,97.0 421.0,97.0 421.5,97.0 422.0,97.0 422.5,97.0 423.0,97.0 423.5,97.0 424.0,97.0 424.5,97.0 425.0,97.0 425.5,97.0 426.0,97.0 426.5,97.0 427.0,97.0 427.5,97.0 428.0,97.0 428.5,97.0 429.0,97.0 429.5,97.0 430.0,97.0 430.5,97.0 431.0,97.0 431.5,97.0 432.0,97.0 432.0,95.2 432.5,95.1 433.0,95.1 433.5,95.1 434.0,95.0 434.5,95.0 435.0,94.9 435.5,94.8 436.0,94.7 436.5,94.6 437.0,94.4 437.5,94.3 438.0,94.3 438.5,94.5 439.0,94.7 439.5,94.9 440.0,95.0 440.5,95.0 441.0,95.0 441.5,95.0 442.0,95.0 442.5,95.0 443.0,95.0 443.5,95.0 444.0,94.8 444.5,94.6 445.0,94.5 445.5,94.3 446.0,94.1 446.5,94.0 447.0,93.8 447.5,93.6 448.0,93.4 448.5,93.2 449.0,93.0 449.5,92.8 450.0,92.7 450.5,92.7 451.0,92.7 451.5,92.7 452.0,92.7 452.5,92.8 453.0,93.0 453.5,93.1 454.0,93.2 454.5,93.3 455.0,93.5 455.5,93.6 456.0,93.7 456.5,93.8 457.0,94.0 457.5,93.8 458.0,93.4 458.5,93.1 459.0,92.8 459.5,92.4 460.0,92.0 460.5,91.6 461.0,91.3 461.5,91.3 462.0,91.4 462.5,91.5 463.0,91.7 463.5,92.1 464.0,92.5 464.5,92.6 465.0,92.2 465.5,91.8 466.0,91.3 466.5,90.7 467.0,90.1 467.5,89.7 468.0,89.9 468.5,90.1 469.0,90.3 469.5,90.4 470.0,90.6 470.5,90.8 471.0,91.2 471.5,91.6 472.0,92.0 472.5,92.7 473.0,93.5 473.5,93.8 474.0,93.2 474.5,92.6 475.0,91.8 475.5,90.9 476.0,89.9 476.5,89.0 477.0,88.3 477.5,87.6 478.0,87.0 478.5,86.4 479.0,86.2 479.5,86.0 480.0,86.0 480.5,86.4 481.0,86.8 481.5,87.1 482.0,87.1 482.5,87.1 483.0,87.1 483.5,87.2 484.0,87.4 484.5,87.5 485.0,87.7 485.5,88.0 486.0,88.3 486.5,88.6 487.0,89.0 487.5,89.5 488.0,90.0 488.5,90.5 489.0,90.8 489.5,90.3 490.0,89.8 490.5,88.6 491.0,87.1 491.5,85.6 492.0,84.1 492.5,82.9 493.0,81.8 493.5,80.6 494.0,79.5 494.5,78.7 495.0,77.8 495.5,77.0 496.0,76.2 496.5,75.5 497.0,74.7 497.5,75.4 498.0,76.2 498.5,78.3 499.0,82.1 499.5,85.0 500.0,87.0 500.5,89.0 500.5,84.9 501.0,87.9 501.5,90.7 502.0,86.2 502.5,81.7 503.0,79.4 503.5,79.1 504.0,78.8 504.5,78.4 505.0,78.5 505.5,78.6 506.0,78.8 506.5,79.0 507.0,78.6 507.5,78.3 508.0,78.0 508.5,77.2 509.0,75.4 509.5,73.7 510.0,72.1 510.5,70.6 511.0,69.1 511.5,68.0 512.0,70.2 512.5,72.5 513.0,74.6 513.5,76.6 514.0,78.4 514.5,78.9 515.0,79.4 515.5,79.9 516.0,80.3 516.5,80.4 517.0,80.6 517.5,80.8 518.0,81.3 518.5,81.9 519.0,82.6 519.5,83.3 520.0,84.5 520.5,85.9 521.0,87.2 521.5,88.2 522.0,87.5 522.5,86.9 523.0,86.2 523.5,86.0 524.0,86.3 524.5,86.6 525.0,87.0 525.5,86.4 526.0,85.4 526.5,84.4 527.0,83.4 527.5,82.4 528.0,81.4 528.5,80.4 529.0,79.4 529.5,78.4 530.0,77.4 530.5,76.4 531.0,75.7 531.5,75.4 532.0,75.0 532.5,74.7 533.0,74.4 533.5,74.0 534.0,73.7 534.5,73.4 535.0,73.0 535.5,72.7 536.0,72.4 536.5,72.2 537.0,72.3 537.5,72.5 538.0,72.7 538.5,73.7 539.0,75.4 539.5,77.1 540.0,77.6 540.5,78.1 541.0,74.5 541.5,67.3 542.0,65.0 542.5,63.8 543.0,62.7 543.5,61.3 544.0,59.8 544.5,58.3 545.0,56.6 545.5,54.8 546.0,54.5 546.5,55.2 547.0,56.1 547.5,57.6 548.0,59.1 548.5,57.9 549.0,54.9 549.5,52.1 550.0,51.1 550.5,50.1 551.0,50.9 551.5,52.9 552.0,55.1 552.5,58.6 553.0,62.1 553.5,64.3 554.0,65.8 554.5,67.2 555.0,67.3 555.5,67.5 556.0,67.7 556.5,67.9 557.0,68.2 557.5,68.6 558.0,68.9 558.5,69.2 559.0,69.6 559.5,69.9 560.0,70.2 560.5,70.7 561.0,71.2 561.5,71.7 562.0,72.3 562.5,73.3 563.0,73.4 563.5,73.4 563.5,75.9 563.0,75.9 562.5,75.9 562.0,76.9 561.5,77.9 561.0,78.9 560.5,79.9 560.0,80.9 559.5,81.0 559.0,81.2 558.5,81.4 558.0,81.5 557.5,81.8 557.0,82.0 556.5,81.5 556.0,80.7 555.5,80.0 555.0,79.2 554.5,78.5 554.0,79.0 553.5,79.7 553.0,80.6 552.5,81.6 552.0,82.6 551.5,83.2 551.0,83.7 550.5,84.1 550.0,84.3 549.5,84.6 549.0,84.8 548.5,85.1 548.0,85.3 547.5,85.6 547.0,85.8 546.5,86.1 546.0,86.3 545.5,86.2 545.0,85.7 544.5,85.2 544.0,83.8 543.5,82.3 543.0,81.1 542.5,80.4 542.0,79.6 541.5,80.5 541.0,81.5 540.5,82.2 540.0,82.5 539.5,82.7 539.0,83.0 538.5,83.2 538.0,83.3 537.5,83.3 537.0,83.3 536.5,83.3 536.0,83.1 535.5,82.8 535.0,82.4 534.5,82.1 534.0,80.8 533.5,79.4 533.0,78.1 532.5,77.2 532.0,77.7 531.5,78.2 531.0,78.7 530.5,79.4 530.0,80.2 529.5,81.1 529.0,81.9 528.5,82.9 528.0,83.9 527.5,84.9 527.0,85.9 526.5,86.9 526.0,87.9 525.5,88.9 525.0,89.5 524.5,89.1 524.0,88.8 523.5,88.5 523.0,88.7 522.5,89.4 522.0,90.0 521.5,90.7 521.0,89.7 520.5,88.4 520.0,87.0 519.5,85.7 519.0,84.7 518.5,83.7 518.0,82.7 517.5,82.0 517.0,81.6 516.5,81.3 516.0,81.0 515.5,80.6 515.0,80.3 514.5,80.0 514.0,79.6 513.5,79.4 513.0,79.1 512.5,78.9 512.0,78.6 511.5,78.4 511.0,78.4 510.5,78.4 510.0,78.4 509.5,78.5 509.0,79.5 508.5,80.5 508.0,81.2 507.5,81.7 507.0,82.2 506.5,82.7 506.0,82.9 505.5,83.0 505.0,83.2 504.5,83.5 504.0,84.1 503.5,84.8 503.0,85.5 502.5,87.2 502.0,90.2 501.5,93.2 501.0,91.8 500.5,90.3 500.5,92.6 500.0,90.6 499.5,88.6 499.0,85.7 498.5,81.9 498.0,79.8 497.5,79.0 497.0,78.3 496.5,79.1 496.0,79.8 495.5,80.6 495.0,81.4 494.5,82.3 494.0,83.1 493.5,84.2 493.0,85.4 492.5,86.5 492.0,87.7 491.5,89.2 491.0,90.7 490.5,92.2 490.0,93.4 489.5,93.9 489.0,94.4 488.5,94.1 488.0,93.6 487.5,93.1 487.0,92.6 486.5,92.2 486.0,91.9 485.5,91.6 485.0,91.3 484.5,91.1 484.0,91.0 483.5,90.8 483.0,90.7 482.5,90.7 482.0,90.7 481.5,90.7 481.0,90.4 480.5,90.0 480.0,89.6 479.5,89.6 479.0,89.8 478.5,90.0 478.0,90.6 477.5,91.2 477.0,91.9 476.5,92.6 476.0,93.5 475.5,94.5 475.0,95.4 474.5,96.2 474.0,96.8 473.5,97.3 473.0,97.1 472.5,96.3 472.0,95.6 471.5,95.2 471.0,94.8 470.5,94.4 470.0,94.2 469.5,94.0 469.0,93.9 468.5,93.7 468.0,93.5 467.5,93.3 467.0,93.7 466.5,94.3 466.0,94.9 465.5,95.4 465.0,95.8 464.5,96.2 464.0,96.1 463.5,95.7 463.0,95.3 462.5,95.1 462.0,95.0 461.5,94.9 461.0,94.9 460.5,95.2 460.0,95.6 459.5,96.0 459.0,96.4 458.5,96.7 458.0,97.0 457.5,97.3 457.0,97.3 456.5,97.3 456.0,97.3 455.5,97.2 455.0,97.1 454.5,96.9 454.0,96.8 453.5,96.7 453.0,96.6 452.5,96.4 452.0,96.3 451.5,96.3 451.0,96.3 450.5,96.3 450.0,96.3 449.5,96.4 449.0,96.6 448.5,96.8 448.0,97.0 447.5,97.2 447.0,97.3 446.5,97.3 446.0,97.3 445.5,97.3 445.0,97.3 444.5,97.3 444.0,97.3 443.5,97.3 443.0,97.3 442.5,97.3 442.0,97.3 441.5,97.3 441.0,97.3 440.5,97.3 440.0,97.3 439.5,97.3 439.0,97.3 438.5,97.3 438.0,97.3 437.5,97.3 437.0,97.3 436.5,97.3 436.0,97.3 435.5,97.3 435.0,97.3 434.5,97.3 434.0,97.3 433.5,97.3 433.0,97.3 432.5,97.3 432.0,97.3 432.0,97.0 431.5,97.0 431.0,97.0 430.5,97.0 430.0,97.0 429.5,97.0 429.0,97.0 428.5,97.0 428.0,97.0 427.5,97.0 427.0,97.0 426.5,97.0 426.0,97.0 425.5,97.0 425.0,97.0 424.5,97.0 424.0,97.0 423.5,97.0 423.0,97.0 422.5,97.0 422.0,97.0 421.5,97.0 421.0,97.0 420.5,97.0 420.0,97.0 419.5,97.0 419.0,97.0 418.5,97.0 418.0,97.0 417.5,97.0 417.0,97.0 416.5,97.0 416.0,97.0 415.5,97.0 415.0,97.0 414.5,97.0 414.0,97.0 413.5,97.0 413.0,97.0 412.5,97.0 412.0,97.0 411.5,97.0 411.0,97.0 410.5,97.0 410.0,97.0 409.5,97.0 409.0,97.0 408.5,97.0 408.0,96.9 407.5,96.9 407.0,96.9 406.5,96.9 406.0,96.9 405.5,96.9 405.0,96.9 404.5,96.9 404.0,96.9 403.5,96.9 403.0,96.9 402.5,96.9 402.0,96.9 401.5,96.9 401.0,96.9 400.5,96.9 400.0,96.9 399.5,96.9 399.0,96.9 398.5,96.9 398.0,96.9 397.5,96.9 397.0,96.9 396.5,96.9 396.0,96.9 395.5,96.9 395.0,96.9 394.5,96.9 394.0,96.9 393.5,96.9 393.0,96.9 392.5,96.9 392.0,96.9 391.5,96.9 391.0,96.9 390.5,96.9 390.0,96.9 389.5,96.9 389.0,96.9 388.5,96.9 388.0,96.9 387.5,96.9 387.0,96.9 386.5,96.9 386.0,96.9 385.5,96.9 385.0,96.9 384.5,96.9 384.0,96.9 383.5,96.9 383.0,96.9 382.5,96.9 382.0,96.9 381.5,96.9 381.0,96.9 380.5,96.9 380.0,96.9 379.5,96.8 379.0,96.8 378.5,96.8 378.0,96.8 377.5,96.8 377.0,96.8 376.5,96.8 376.0,96.8 375.5,96.8 375.0,96.8 374.5,96.8 374.0,96.8 373.5,96.8 373.0,96.8 372.5,96.8 372.0,96.8 371.5,96.8 371.0,96.8 370.5,96.8 370.0,96.8 369.5,96.8 369.0,96.8 368.5,96.8 368.0,96.8 367.5,96.8 367.0,96.8 366.5,96.8 366.0,96.8 365.5,96.8 365.0,96.8 364.5,96.8 364.0,96.8 363.5,96.8 363.0,96.8 363.0,94.5 362.5,94.5 362.0,94.5 361.5,94.2 361.0,94.0 360.5,93.7 360.0,93.5 359.5,93.2 359.0,93.0 358.5,92.7 358.0,93.3 357.5,94.0 357.0,94.7 356.5,95.1 356.0,95.5 355.5,95.6 355.0,95.7 354.5,95.6 354.0,95.1 353.5,94.6 353.0,93.7 352.5,92.7 352.0,91.6 351.5,90.1 351.0,88.6 350.5,89.2 350.0,90.2 349.5,91.2 349.0,92.1 348.5,92.4 348.0,92.8 347.5,93.1 347.0,93.1 346.5,92.4 346.0,91.7 345.5,91.1 345.0,90.4 344.5,89.7 344.0,89.1 343.5,88.4 343.0,88.0 342.5,87.7 342.0,87.4 341.5,87.0 341.0,86.7 340.5,86.4 340.0,86.0 339.5,86.1 339.0,86.9 338.5,87.6 338.0,88.2 337.5,88.7 337.0,89.0 336.5,89.3 336.0,89.5 335.5,89.9 335.0,90.2 334.5,90.5 334.0,90.8 333.5,91.0 333.0,91.2 332.5,91.3 332.0,91.4 331.5,91.2 331.0,91.0 330.5,90.9 330.0,90.8 329.5,90.8 329.0,90.9 328.5,91.2 328.0,91.6 327.5,91.9 327.0,91.8 326.5,91.3 326.0,90.8 325.5,89.8 325.0,88.8 324.5,88.6 324.0,89.1 323.5,89.6 323.0,89.9 322.5,90.2 322.0,90.6 321.5,90.6 321.0,89.9 320.5,89.3 320.0,88.6 319.5,88.1 319.0,87.8 318.5,87.5 318.0,87.1 317.5,86.7 317.0,86.2 316.5,85.8 316.0,85.8 315.5,85.8 315.0,87.5 314.5,89.5 314.0,90.9 313.5,91.3 313.0,91.6 312.5,91.9 312.0,91.8 311.5,91.5 311.0,91.2 310.5,90.8 310.0,90.5 309.5,90.2 309.0,89.8 308.5,89.5 308.0,89.0 307.5,88.5 307.0,88.1 306.5,87.8 306.0,87.4 305.5,87.1 305.0,86.8 304.5,86.4 304.0,86.1 303.5,85.7 303.0,85.0 302.5,84.4 302.0,83.7 301.5,82.9 301.0,81.9 300.5,80.9 300.0,80.5 299.5,80.2 299.0,79.9 298.5,79.6 298.0,79.6 297.5,79.6 297.0,79.6 296.5,79.8 296.0,80.3 295.5,80.8 295.0,79.4 294.5,77.9 294.0,76.9 294.0,76.2 293.5,76.4 293.0,76.6 292.5,77.1 292.0,77.6 291.5,78.1 291.0,78.6 290.5,79.1 290.0,79.6 289.5,80.1 289.0,79.4 288.5,78.4 288.0,77.9 287.5,78.4 287.0,78.9 286.5,80.0 286.0,81.2 285.5,82.1 285.0,82.1 284.5,82.1 284.0,82.1 283.5,82.5 283.0,83.3 282.5,83.9 282.0,83.6 281.5,82.8 281.0,77.1 280.5,72.6 280.0,70.5 279.5,69.6 279.0,69.6 278.5,70.6 278.0,72.1 277.5,73.1 277.0,70.6 276.5,68.1 276.0,67.9 275.5,69.2 275.0,70.4 274.5,71.7 274.0,72.9 273.5,72.1 273.0,70.2 272.5,68.8 272.0,69.7 271.5,70.6 271.0,71.5 270.5,72.5 270.0,73.5 269.5,74.5 269.0,75.5 268.5,76.3 268.0,77.0 267.5,77.7 267.0,78.3 266.5,78.2 266.0,78.0 265.5,77.9 265.0,77.2 264.5,74.4 264.0,71.7 263.5,69.4 263.0,68.2 262.5,67.1 262.0,65.9 261.5,66.2 261.0,66.6 260.5,66.9 260.0,67.1 259.5,67.1 259.0,67.1 258.5,66.9 258.0,66.6 257.5,66.2 257.0,65.9 256.5,65.4 256.0,64.9 255.5,64.4 255.0,63.8 254.5,63.0 254.0,62.1 253.5,61.3 253.0,62.0 252.5,64.0 252.0,65.9 251.5,66.9 251.0,67.9 250.5,68.0 250.0,67.2 249.5,66.3 249.0,62.8 248.5,59.3 248.0,57.1 247.5,55.8 247.0,55.0 246.5,58.0 246.0,61.0 245.5,63.8 245.0,66.4 244.5,69.1 244.0,71.8 243.5,72.4 243.0,72.7 242.5,73.1 242.0,73.4 241.5,73.6 241.0,73.7 240.5,73.9 240.0,74.6 239.5,76.3 239.0,77.9 238.5,75.0 238.0,71.5 237.5,68.1 237.0,67.2 236.5,66.7 236.0,66.1 235.5,66.4 235.0,67.1 234.5,68.1 234.0,70.3 233.5,72.5 233.0,74.6 232.5,75.7 232.0,75.3 231.5,74.9 231.0,74.6 230.5,74.2 230.0,73.9 229.5,73.6 229.0,73.4 228.5,73.1 228.0,72.9 227.5,72.7 227.0,72.5 226.5,72.3 226.0,72.2 225.5,71.0 225.0,69.5 225.0,66.2 224.5,66.7 224.0,68.5 223.5,70.2 223.0,70.4 222.5,70.7 222.0,70.1 221.5,68.9 221.0,67.6 220.5,64.8 220.0,62.1 219.5,59.3 219.0,56.6 218.5,54.2 218.0,58.2 217.5,62.2 217.0,66.2 216.5,70.2 216.0,73.8 215.5,71.8 215.0,69.8 214.5,68.5 214.0,67.8 213.5,67.0 213.0,65.7 212.5,64.1 212.0,58.7 211.5,54.6 211.0,52.9 210.5,51.1 210.0,53.2 209.5,56.0 209.0,59.2 208.5,63.2 208.0,67.2 207.5,69.9 207.0,72.4 206.5,74.5 206.0,76.0 205.5,77.5 205.0,77.2 204.5,76.7 204.0,74.8 203.5,70.8 203.0,66.8 202.5,65.3 202.0,64.1 201.5,64.3 201.0,66.5 200.5,68.8 200.0,72.2 199.5,75.7 199.0,79.1 198.5,82.3 198.0,85.6 197.5,82.2 197.0,78.4 196.5,75.2 196.0,72.4 195.5,69.7 195.0,69.3 194.5,69.1 194.0,69.2 193.5,69.7 193.0,70.2 192.5,70.7 192.0,71.2 191.5,71.7 191.0,72.2 190.5,72.7 190.0,73.8 189.5,75.0 189.0,76.1 188.5,77.4 188.0,78.6 187.5,79.9 187.0,80.5 186.5,81.0 186.0,81.5 185.5,82.0 185.0,82.5 184.5,83.0 184.0,83.5 183.5,84.0 183.0,84.3 182.5,84.7 182.0,85.0 181.5,84.4 181.0,83.1 180.5,81.7 180.0,80.4 179.5,79.6 179.0,78.9 178.5,78.3 178.0,77.8 177.5,79.3 177.0,80.8 176.5,82.4 176.0,84.2 175.5,85.3 175.0,81.1 174.5,76.8 174.0,75.2 173.5,75.2 173.0,75.2 172.5,75.5 172.0,75.7 171.5,76.1 171.0,76.6 170.5,77.0 170.0,76.8 169.5,76.5 169.0,76.6 168.5,76.8 168.0,77.2 167.5,77.9 167.0,78.7 166.5,79.2 166.0,79.7 165.5,79.8 165.0,77.8 164.5,75.8 164.0,75.1 163.5,74.9 163.0,74.7 162.5,74.6 162.0,75.3 161.5,76.2 161.0,77.0 160.5,78.1 160.0,80.1 159.5,82.1 159.0,84.1 158.5,85.6 158.0,86.6 157.5,87.6 157.0,88.6 156.5,89.1 156.0,89.5 156.0,88.3 155.5,88.6 155.0,89.1 154.5,90.1 154.0,91.1 153.5,92.1 153.0,93.4 152.5,94.9 152.0,96.3 151.5,93.8 151.0,91.3 150.5,87.7 150.0,84.7 149.5,85.2 149.0,85.7 148.5,87.0 148.0,88.5 147.5,90.0 147.0,91.5 146.5,92.7 146.0,94.0 145.5,95.3 145.0,96.2 144.5,96.4 144.0,96.6 143.5,96.9 143.0,96.7 142.5,96.2 142.0,95.7 141.5,95.2 141.0,94.2 140.5,93.2 140.0,92.7 139.5,93.0 139.0,93.2 138.5,93.7 138.0,94.3 137.5,94.9 137.0,95.4 136.5,95.8 136.0,96.3 135.5,96.7 135.0,97.0 134.5,97.1 134.0,97.2 133.5,97.3 133.0,97.2 132.5,96.9 132.0,96.6 131.5,96.4 131.0,95.6 130.5,94.9 130.0,94.1 129.5,93.4 129.0,92.6 128.5,93.8 128.0,95.0 127.5,96.0 127.0,96.7 126.5,97.3 126.0,97.3 125.5,97.3 125.0,97.3 124.5,97.3 124.0,97.0 123.5,96.5 123.0,96.1 122.5,95.7 122.0,95.4 121.5,95.6 121.0,95.8 120.5,96.0 120.0,96.3 119.5,96.6 119.0,96.9 118.5,97.3 118.0,97.3 117.5,97.3 117.0,97.3 116.5,97.3 116.0,97.3 115.5,97.3 115.0,97.3 114.5,97.3 114.0,97.3 113.5,97.3 113.0,97.3 112.5,97.3 112.0,97.3 111.5,97.3 111.0,97.3 110.5,97.3 110.0,97.1 109.5,96.7 109.0,96.4 108.5,96.6 108.0,96.9 107.5,97.2 107.0,97.3 106.5,97.2 106.0,97.1 105.5,97.0 105.0,96.4 104.5,95.4 104.0,94.3 103.5,93.1 103.0,91.8 102.5,92.5 102.0,94.2 101.5,95.8 101.0,96.5 100.5,97.1 100.0,97.3 99.5,97.3 99.0,97.3 98.5,97.3 98.0,97.3 97.5,97.3 97.0,97.1 96.5,97.0 96.0,97.1 95.5,97.2 95.0,97.3 94.5,97.2 94.0,97.0 93.5,96.7 93.0,96.4 92.5,96.1 92.0,95.8 91.5,95.4 91.0,95.1 90.5,92.8 90.0,90.5 89.5,88.1 89.0,85.7 88.5,84.5" fill="#4393c3" stroke="#4393c3" stroke-width="0.6" stroke-linejoin="round"/>
<polygon points="158.1,83.3 159.4,77.1 161.0,72.7 162.7,71.9 164.5,72.9 165.0,83.3 163.7,90.8 161.9,91.1 160.0,90.8 158.5,89.8" fill="#4393c3"/>
<polygon points="207.9,65.3 209.2,54.7 210.4,48.5 211.7,52.8 212.5,62.2 213.5,65.3 212.9,67.1 211.7,67.8 210.4,70.3 209.2,70.9 208.3,68.4" fill="#4393c3"/>
</g>
<g clip-path="url(#cpb)">
<polyline points="88.5,142.4 90.5,136.2 93.5,131.2 95.5,133.7 97.2,138.6 99.7,131.9 102.9,128.7 104.7,137.4 107.2,129.9 110.2,127.4 112.2,131.2 117.1,133.7 120.4,136.2 123.4,131.2 125.9,131.2 127.1,133.7 128.9,136.2 130.8,139.9 134.6,138.6 137.1,136.2 139.6,134.9 142.1,136.9 144.5,134.9 147.0,137.4 149.5,143.6 151.3,142.4 153.3,134.9 155.3,142.4 157.0,149.9 158.7,148.6 160.2,153.6 162.0,156.1 164.5,152.4 167.0,147.4 169.5,148.6 171.9,153.6 174.4,154.8 176.2,158.6 179.4,164.8 181.9,161.1 185.2,158.6 188.1,164.8 191.9,168.5 194.4,171.0 198.1,172.3 201.8,173.5 204.3,174.8 208.1,174.3 210.6,178.5 213.1,177.3 214.3,179.3 216.8,173.5 218.5,174.3 220.9,174.3 224.7,174.3 227.2,178.5 228.9,184.7 230.4,194.7 232.2,202.7 233.9,204.2 235.9,202.7 237.9,201.7 238.9,189.7 240.4,186.0 242.1,183.5 243.4,181.7 244.6,183.5 245.9,189.2 247.1,192.2 248.4,191.7 249.6,186.0 251.3,186.7 253.3,189.2 255.3,187.7 257.1,184.7 258.8,181.7 260.8,182.7 262.8,185.2 264.5,184.2 266.3,186.0 267.8,184.7 269.5,189.7 270.8,195.2 272.0,191.0 273.8,189.2 276.3,187.2 278.2,183.5 280.2,182.2 282.0,184.7 283.7,184.2 285.2,187.2 287.0,187.7 289.5,187.2 291.9,187.7 293.7,186.0 295.7,189.2 297.7,191.0 298.7,186.7 300.2,183.5 301.9,182.7 303.7,181.0 305.7,177.8 307.6,180.3 309.4,179.8 311.1,182.7 313.1,184.2 315.1,186.7 316.9,188.5 318.6,186.7 320.6,187.2 322.6,187.7 324.3,186.0 326.1,185.2 328.1,183.5 330.1,176.8 331.8,176.0 333.6,177.3 335.5,181.0 337.5,189.7 339.0,187.7 340.9,189.2 342.9,191.7 344.7,190.2 346.4,191.7 348.4,192.2 350.4,192.7 352.2,193.5 353.4,195.9 354.4,202.2 355.4,195.9 356.4,190.2 358.4,191.0 360.4,190.2 362.1,191.0 363.4,195.9 365.4,195.2 367.9,194.7 369.6,194.2 371.3,190.2 372.3,191.0 373.3,193.5 374.6,198.4 375.8,187.2 377.1,182.2 378.3,182.7 379.6,186.0 380.8,189.7 382.8,191.0 384.5,192.2 385.8,194.7 387.8,195.9 389.5,193.5 392.0,192.2 394.5,191.7 397.0,191.7 399.5,190.2 400.7,191.0 402.0,187.2 403.7,186.0 405.2,188.5 407.0,189.2 408.7,191.0 410.7,191.7 412.7,192.2 414.4,193.5 416.2,192.7 418.2,191.7 420.2,191.0 421.9,191.0 423.7,188.5 425.7,187.7 427.6,187.2 429.4,183.5 430.6,184.7 432.6,187.2 435.1,187.7 438.1,188.5 441.1,189.2 443.1,190.2 445.6,190.2 447.6,189.2 449.2,186.0 450.9,182.2 452.9,181.0 454.9,181.7 456.6,180.3 458.4,179.8 460.4,182.2 462.4,181.7 464.1,180.3 465.9,177.8 467.4,176.8 469.1,178.5 470.9,179.3 472.8,177.3 474.8,174.3 476.6,172.3 479.1,171.8 481.6,172.8 484.1,173.5 485.8,174.3 487.8,175.3 490.3,175.3 492.3,176.0 494.0,175.3 495.8,173.5 497.8,172.8 500.2,172.3 502.7,172.3 505.2,171.8 507.2,171.8 509.0,171.0 511.5,170.3 513.9,171.0 516.4,170.3 518.9,171.0 520.7,169.8 522.7,169.8 525.2,171.0 527.7,171.8 530.1,171.0 532.1,170.3 533.9,171.0 535.6,171.8 537.6,171.8 540.1,172.3" fill="none" stroke="#000" stroke-width="1.45" stroke-linejoin="round"/>
<polyline points="120.4,139.9 123.4,142.4 124.6,143.6 125.9,153.6 128.4,151.1 130.8,153.6 133.3,161.1 135.3,166.1 137.1,167.3 138.8,158.6 140.8,151.1 143.3,148.6 145.8,142.4 147.0,141.1 149.5,147.4 152.0,149.9 153.8,157.3 155.8,163.6 157.0,169.8 158.7,167.3 160.7,166.1 163.2,164.8 164.7,159.8 166.2,162.3 169.5,164.8 173.2,167.3 176.9,169.8 180.7,171.8 184.4,172.3 188.1,171.0 191.9,171.8 195.6,172.3 200.6,171.8 205.6,172.3 210.6,172.3 215.5,172.8 220.9,173.5 225.9,172.3 230.9,172.3 233.4,173.5 235.4,175.3 237.9,174.3 239.6,175.3 242.1,176.8 243.9,175.3 245.9,176.8 247.9,175.3 249.6,176.0 252.1,175.3 253.8,173.5 255.8,176.8 257.8,174.3 259.6,175.3 262.1,176.0 263.8,177.8 265.8,179.3 267.8,177.3 269.5,177.3 271.3,180.3 272.8,179.8 274.5,176.8 277.0,175.3 279.5,175.3 282.0,173.5 284.5,174.3 286.2,172.8 288.2,174.3 290.7,172.8 292.7,172.8 293.7,181.0 294.7,182.2 296.2,177.3 297.7,172.8 299.4,177.3 301.2,176.0 303.2,175.3 305.7,175.3 308.1,174.3 310.6,172.8 312.6,172.3 314.4,175.3 316.1,178.5 317.6,184.2 319.4,182.2 321.1,180.3 323.1,178.5 325.1,177.3 326.8,174.8 328.6,173.5 330.6,173.5 332.6,174.3 334.3,173.5 336.8,174.3 338.0,174.8 339.7,181.0 341.4,184.7 343.4,184.2 345.4,182.2 347.9,181.0 349.7,178.5 352.2,176.0 353.9,174.3 355.9,173.5 357.9,172.8 359.6,176.0 360.9,181.0 362.1,184.2 363.9,182.7 365.9,182.2 367.1,181.0 368.4,176.0 369.6,180.3 370.8,183.5 372.1,179.3 373.3,176.0 375.3,174.3 377.1,175.3 379.6,174.3 382.1,173.5 383.8,172.8 385.8,176.8 387.0,184.7 388.3,184.2 390.3,184.7 392.0,182.7 393.3,178.5 394.5,177.8 396.3,176.0 398.2,174.8 399.5,172.8 402.0,172.3 405.7,172.3 409.5,172.3 411.9,174.8 413.7,179.8 415.2,182.2 416.2,179.8 417.7,178.5 419.4,177.8 421.9,175.3 424.4,173.5 428.1,172.3 431.9,172.3 434.4,172.3 435.6,176.0 436.9,178.5 438.6,176.8 440.6,176.0 443.1,176.8 445.1,175.3 447.6,175.3 450.4,173.5 451.7,172.3 455.4,172.3 457.9,172.3 459.1,172.8" fill="none" stroke="#f00" stroke-width="1.45" stroke-linejoin="round"/>
<polyline points="459.1,174.3 460.4,175.7 461.6,173.2 462.9,173.9 464.1,173.4 465.4,173.1 466.6,173.4 467.9,172.6 469.1,172.3 470.4,172.5 471.6,172.7 472.8,172.3 474.1,172.3 475.3,171.6 476.6,171.7 477.8,171.6 479.1,171.3 480.3,171.5 481.6,171.7 482.8,172.4 484.1,172.7 485.3,172.7 486.5,172.8 487.8,172.3 489.0,172.6 490.3,172.6 491.5,172.7 492.8,172.0 494.0,172.1 495.3,171.6 496.5,172.1 497.8,171.5 499.0,171.8 500.2,172.7 501.5,171.5 502.7,172.6 504.0,172.4 505.2,172.2 506.5,172.4 507.7,172.5 509.0,172.6 510.2,172.2 511.5,172.1 512.7,172.1 513.9,171.9 515.2,172.3 516.4,172.0 517.7,172.7 518.9,171.6 520.2,171.9 521.4,171.9 522.7,171.5 523.9,172.9 525.2,171.4 526.4,172.2 527.7,172.1 528.9,172.9 530.1,171.6 531.4,172.7 532.6,172.0 533.9,172.2 535.1,172.0 536.4,172.5 537.6,171.9 538.9,172.3 540.1,172.4 541.4,172.9 542.6,171.4 543.8,173.0 545.1,172.9 546.3,172.6 547.6,173.3 548.8,173.4 550.1,173.4 551.3,173.2 552.6,173.5 553.8,173.1 555.1,172.7 556.3,172.5 557.5,172.0 558.8,173.0 560.0,171.6 561.3,171.0 562.5,172.3" fill="none" stroke="#00f" stroke-width="1.4" stroke-linejoin="round"/>
</g>
<g clip-path="url(#cpc)">
<polyline points="92.2,313.1 96.0,315.9 99.7,310.9 102.2,307.8 104.7,305.9 108.4,307.3 112.2,304.3 115.9,304.1 119.6,310.2 122.9,316.0 125.9,316.0 129.6,307.8 133.3,308.3 137.1,305.6 139.6,303.2 142.1,308.5 145.8,314.0 148.3,315.0 151.3,310.7 154.5,311.2 158.2,316.7 162.0,313.7 165.2,317.7 167.7,318.9 170.7,315.7 173.7,313.0 176.9,318.8 179.4,319.3 182.7,310.4 185.7,318.2 188.6,311.7 191.9,309.4 195.6,308.7 199.4,316.4 203.1,312.1 205.6,305.7 208.1,303.0 210.6,295.9 213.1,294.4 215.5,287.2 217.2,296.7 219.7,291.4 221.4,295.5 223.4,297.9 226.4,297.2 228.9,290.7 230.4,290.0 231.7,282.0 232.9,278.2 233.9,277.0 235.4,273.2 236.6,273.2 237.9,278.5 238.9,277.0 240.4,286.9 242.1,297.7 243.4,300.7 244.6,296.9 245.9,287.3 247.1,274.5 248.4,274.7 249.6,280.3 250.8,280.7 252.1,282.2 253.8,289.9 255.8,297.0 257.8,292.7 259.6,293.9 261.3,289.4 262.8,287.6 264.5,291.0 266.3,295.4 268.3,289.9 269.8,282.5 271.3,287.8 272.8,287.5 274.5,283.8 276.3,286.7 278.2,281.1 280.2,289.0 282.0,291.9 283.7,287.6 285.7,288.4 287.7,284.1 289.5,279.4 291.2,286.9 293.2,290.7 295.2,294.2 296.9,293.7 298.7,295.6 300.7,295.0 302.7,297.2 304.4,299.9 306.1,295.8 308.1,303.5 310.1,299.9 311.9,303.8 313.6,297.3 315.6,293.2 317.6,288.2 319.4,292.0 321.1,293.1 323.1,286.0 325.1,288.5 326.8,289.8 328.6,295.2 330.6,296.0 332.6,300.6 334.3,294.3 336.0,295.1 338.0,293.5 340.4,292.5 342.9,294.4 345.4,291.9 347.9,294.1 350.4,297.9 352.9,301.6 355.4,297.8 357.9,300.2 360.4,293.9 362.9,295.7 365.4,299.0 367.9,294.9 370.3,294.0 372.1,293.2 373.8,290.9 375.3,295.4 377.1,295.6 379.6,302.2 382.1,303.5 385.3,300.3 388.3,299.0 391.3,298.0 393.8,300.6 396.3,300.7 398.7,298.8 400.2,292.7 401.5,285.5 402.2,290.5 403.7,301.3 405.7,304.9 408.2,303.1 411.2,301.0 414.4,302.2 417.7,304.5 420.7,302.8 423.2,300.0 425.7,303.2 428.6,300.8 431.9,302.3 435.1,304.5 438.1,303.3 441.1,304.4 443.6,304.3 446.8,304.1 449.2,305.7 452.4,300.3 454.9,297.3 457.9,301.4 460.9,305.7 464.1,301.6 466.6,299.8 469.1,304.6 471.6,307.9 474.1,303.0 477.8,307.0 481.6,304.4 485.3,307.6 489.0,307.0 491.5,304.7 494.0,307.2 496.5,300.6 499.0,301.3 500.7,304.9 502.2,295.9 504.0,305.6 505.7,304.7 507.2,306.0 509.0,312.3 510.2,316.8 511.5,319.4 512.7,313.6 513.9,309.7 515.7,300.7 517.7,304.1 520.2,304.2 522.7,310.5 525.2,300.9 527.2,303.3 528.9,300.3 530.6,300.1 532.6,301.2 534.6,300.7 536.4,304.0 537.6,301.5 539.6,305.3" fill="none" stroke="#000" stroke-width="1.5" stroke-linejoin="round" stroke-dasharray="1.3 3.4" stroke-linecap="butt"/>
<polyline points="164.5,309.8 167.0,307.1 170.7,310.9 174.4,308.5 178.2,312.9 180.7,304.9 182.9,308.1 185.2,309.0 187.9,307.8 190.6,307.6 193.1,306.9 195.6,306.0 198.1,305.9 200.6,309.0 204.3,311.8 206.8,310.3 210.6,307.3 214.3,300.1 218.0,306.5 220.0,307.7 222.9,308.7 225.4,314.1 228.4,308.8 230.9,305.6 233.4,296.4 235.9,299.8 238.4,300.6 240.9,303.7 243.4,302.8 245.9,305.2 248.4,302.4 250.8,303.1 254.6,294.6 257.1,297.4 259.6,296.1 262.1,297.3 264.5,299.7 267.0,294.7 269.5,293.0 271.3,286.7 273.3,291.8 275.8,287.3 278.2,286.2 280.7,291.6 283.2,290.1 285.2,288.1 287.0,290.4 288.7,290.1 290.7,294.5 292.7,300.3 294.4,298.9 296.2,303.5 298.2,300.8 300.7,305.3 303.2,305.1 305.7,312.6 308.1,309.8 310.1,305.4 312.6,301.3 315.1,302.5 317.6,303.7 320.1,301.4 322.6,303.1 325.1,303.8 327.6,302.5 330.1,301.8 332.6,303.4 335.0,301.6 337.2,304.0 340.9,302.0 344.7,305.4 347.9,302.6 350.9,302.0 354.6,303.2 357.9,301.0 360.9,300.9 363.4,301.9 367.1,303.9 370.8,298.3 374.6,300.5 375.8,299.3 378.3,302.3 381.3,304.5 384.5,300.3 388.3,304.2 391.3,303.4 394.5,303.3 398.2,303.4 402.0,303.3 405.7,302.9 408.2,304.5 410.7,307.5 413.2,305.7 415.7,305.3 418.2,304.8 420.7,303.0 423.2,305.3 425.7,308.2 428.1,302.4 430.6,306.0 433.1,306.4 435.6,305.1 438.1,305.6 440.6,306.3 443.1,307.7 445.6,304.0" fill="none" stroke="#f00" stroke-width="1.5" stroke-linejoin="round" stroke-dasharray="1.3 3.4"/>
<polyline points="88.5,291.6 90.5,295.3 92.2,298.3 94.7,299.1 96.5,298.3 98.5,299.8 100.4,300.8 102.9,302.3 104.7,299.8 106.4,298.3 108.4,300.8 110.4,302.8 112.2,303.3 113.4,301.5 115.4,300.8 117.9,301.5 120.4,302.3 122.9,302.3 125.4,302.3 127.1,302.8 128.9,301.5 130.8,298.3 132.1,300.8 133.8,298.3 135.8,298.3 137.8,300.8 139.6,301.5 142.1,302.3 144.5,302.3 146.3,302.3 148.3,301.5 150.3,299.8 152.0,297.8 153.3,302.3 155.3,303.3 157.0,300.3 158.7,296.6 160.7,294.8 162.7,298.3 164.5,301.5 166.2,300.3 168.2,297.8 170.2,299.8 171.9,300.8 173.7,299.8 175.7,299.1 177.7,295.8 178.7,292.8 180.2,294.1 181.2,297.3 182.7,299.1 184.4,295.3 186.1,294.1 187.6,295.8 188.9,292.3 190.1,299.1 191.9,302.8 193.6,304.0 195.6,304.8 197.6,301.5 199.4,296.6 200.6,302.8 201.8,312.8 203.1,304.0 204.3,296.6 206.1,294.8 208.1,296.6 209.3,300.8 210.6,305.3 211.8,306.5 213.6,311.5 215.0,317.2 216.8,315.2 217.2,316.5 219.0,315.2 220.9,319.7 222.9,309.0 224.7,310.3 226.4,307.8 227.9,302.8 229.7,299.1 231.4,297.8 232.9,301.5 233.9,294.1 235.4,304.8 237.1,311.5 238.4,306.5 239.6,295.3 240.9,305.3 242.1,314.0 243.4,312.3 244.6,326.5 246.4,324.0 248.4,323.2 250.3,319.0 252.1,320.2 253.8,315.2 255.8,312.8 257.8,309.0 259.6,310.3 261.3,312.8 263.3,317.7 265.3,322.7 267.0,315.2 268.3,301.5 269.5,305.8 271.3,302.8 272.8,306.5 273.8,305.3 275.3,310.3 277.0,312.8 278.7,317.7 280.2,322.7 282.0,320.2 283.7,321.5 285.7,317.2 287.7,317.7 289.5,322.2 291.2,316.5 293.2,314.0 295.2,312.8 296.9,317.7 298.7,320.2 300.2,325.2 301.9,322.7 303.7,319.0 305.7,315.7 307.6,317.7 309.4,314.0 311.1,314.0 313.1,312.8 315.1,309.8 316.9,315.2 318.6,321.5 320.1,317.7 321.8,315.2 323.6,317.7 325.6,319.0 327.6,322.2 329.3,325.2 331.1,326.5 333.1,322.7 335.0,319.0 336.8,314.7 337.2,315.2 339.0,314.0 340.9,312.3 342.9,310.8 344.7,310.3 346.4,312.3 348.4,313.3 350.4,312.3 352.2,309.8 353.9,311.5 355.9,309.0 357.9,310.8 360.4,310.3 362.9,309.0 364.6,308.3 365.9,310.3 367.1,313.3 368.9,311.5 370.3,310.3 372.1,311.5 373.8,308.3 375.8,307.3 378.3,309.0 380.3,308.3 382.8,306.5 385.8,307.3 388.3,307.3 390.8,307.3 394.5,307.3 398.2,307.3 400.2,308.3 401.2,312.8 402.0,317.7 403.2,314.0 404.5,310.8 406.2,309.0 409.5,308.3 411.9,307.8 414.4,307.3 416.9,306.5 419.4,306.5 421.9,307.3 424.4,308.3 426.1,310.3 428.1,312.8 429.4,313.3 431.1,310.8 433.1,309.0 435.6,308.3 438.1,307.3 440.6,306.5 443.1,306.5 445.6,306.5 449.2,307.3 450.9,309.8 452.4,313.3 454.2,316.5 455.9,318.2 457.9,315.7 459.9,315.2 462.4,314.7 464.1,313.3 466.6,312.8 469.1,312.8 471.6,311.5 473.3,312.3 474.8,319.0 476.6,318.2 478.3,315.2 480.3,310.8 482.3,309.8 484.1,313.3 485.8,317.2 487.8,314.7 489.0,308.3 490.8,305.8 492.3,308.3 494.0,306.5 495.8,307.8 497.8,307.3 499.0,304.0 500.2,298.3 501.5,309.8 502.7,317.7 504.0,325.7 505.2,317.7 506.5,309.8 507.7,304.8 509.0,301.5 510.2,298.3 511.5,302.8 512.7,305.8 514.7,306.5 516.4,307.3 518.2,309.0 520.2,308.3 522.2,306.5 523.9,309.8 525.2,307.3 527.2,305.8 528.9,307.3 530.6,308.3 532.6,309.0 534.6,310.3 536.4,308.3 537.6,306.5 538.9,305.3" fill="none" stroke="#000" stroke-width="1.45" stroke-linejoin="round"/>
<polyline points="120.4,304.0 122.1,302.8 123.9,301.5 125.4,302.8 127.1,303.3 128.9,304.0 130.8,304.8 133.3,304.0 135.8,305.3 138.3,305.8 140.8,304.8 143.3,304.0 145.8,304.0 148.3,304.8 150.8,305.3 153.3,305.3 155.8,305.3 158.2,305.8 160.7,305.8 163.2,304.8 165.2,300.8 167.0,299.8 168.7,302.3 170.7,302.8 173.2,302.3 176.2,302.3 179.4,302.8 181.2,304.8 183.2,304.8 185.7,305.3 188.1,305.3 190.6,305.8 193.1,305.3 195.6,305.8 198.1,306.5 200.1,307.8 201.1,311.5 201.8,306.5 203.1,302.8 204.3,299.8 205.6,298.3 207.6,297.3 209.3,298.3 210.6,304.0 213.1,308.3 215.5,309.8 218.0,308.3 220.4,309.8 222.2,309.8 223.9,307.3 225.4,312.8 226.4,320.2 227.9,314.0 229.7,308.3 230.9,308.3 232.9,302.8 234.6,303.3 235.9,308.3 237.1,310.8 238.4,308.3 240.4,308.3 242.1,309.8 243.9,310.3 245.9,308.3 247.9,305.3 249.6,306.5 251.3,308.3 253.3,304.8 255.3,299.1 257.1,306.5 258.8,307.8 260.8,309.8 262.8,310.8 264.5,309.8 266.3,312.3 267.8,310.8 269.5,310.8 271.3,308.3 272.8,304.0 274.5,304.8 276.3,307.8 278.2,309.0 280.2,310.8 282.0,309.8 283.7,308.3 285.7,306.5 287.7,305.3 289.5,307.3 291.2,308.3 293.2,305.8 295.2,306.5 296.9,305.3 298.7,304.0 300.2,302.8 301.9,305.3 303.7,306.5 305.7,309.0 307.6,312.3 309.4,311.5 311.1,310.3 313.1,307.3 315.1,304.8 316.9,305.8 318.6,304.8 320.6,304.8 322.6,305.3 324.3,309.0 326.1,311.5 328.1,317.7 330.1,315.2 331.8,314.7 333.6,313.3 335.5,314.0 338.0,313.3 339.7,315.2 341.4,315.2 343.4,311.5 345.4,308.3 347.9,308.3 350.4,307.3 352.9,309.0 355.4,307.3 357.9,305.8 360.4,306.5 362.9,307.3 365.9,306.5 368.4,305.3 370.8,307.3 373.3,308.3 375.8,306.5 378.3,305.3 380.8,304.8 384.5,305.8 387.8,305.3 390.8,305.8 394.5,304.8 398.2,305.8 400.7,304.8 403.2,305.8 405.7,305.3 409.5,305.8 413.2,306.5 416.9,306.5 420.7,305.3 424.4,305.8 428.1,306.5 430.6,307.3 433.1,306.5 435.6,305.8 439.4,306.5 443.1,305.8 446.8,305.3 450.4,305.8 452.9,305.3 455.4,305.8 457.4,307.8 459.1,309.0 460.9,309.8 462.9,309.8 464.9,308.3 466.6,307.3 468.4,307.8 470.4,308.3 472.3,309.0" fill="none" stroke="#f00" stroke-width="1.45" stroke-linejoin="round"/>
<polyline points="459.1,304.9 460.9,307.0 462.9,307.3 464.1,310.0 465.9,307.0 467.4,303.8 469.1,305.2 470.4,304.2 471.6,304.7 472.8,304.8 474.1,304.4 475.3,303.6 476.6,304.6 477.8,302.2 479.1,301.9 480.8,303.6 482.8,302.7 484.1,302.2 485.3,301.7 486.5,303.4 487.8,303.9 489.0,304.1 490.3,304.9 492.3,301.5 494.0,303.2 495.8,302.5 497.8,304.8 499.0,303.6 500.2,304.4 501.5,302.4 502.7,303.5 504.7,302.6 506.5,303.9 507.7,306.1 509.0,302.6 510.2,305.8 511.5,305.6 512.7,304.3 513.9,304.5 515.7,305.8 517.7,305.8 518.9,305.1 520.2,305.2 521.4,304.7 522.7,303.8 523.9,304.4 525.2,303.3 526.4,305.7 527.7,303.4 528.9,304.4 530.1,304.8 531.4,303.2 532.6,306.7 534.6,304.9 536.4,308.0 538.1,306.0 540.1,308.2 541.4,303.9 542.6,306.4 544.6,303.3 545.8,304.5 547.1,304.6 548.3,305.3 549.6,302.9 550.8,303.6 552.1,303.6 553.8,306.6 555.1,302.0 556.3,305.6 557.5,305.6 558.8,304.8 560.0,306.2 561.3,306.1 562.5,308.8 563.5,307.8" fill="none" stroke="#00f" stroke-width="1.3" stroke-linejoin="round"/>
<polyline points="459.1,304.8 460.9,306.3 462.9,307.8 464.1,309.4 465.9,308.3 467.4,304.5 469.1,305.0 470.4,303.1 471.6,304.9 472.8,303.3 474.1,302.4 475.3,303.5 476.6,304.3 477.8,303.6 479.1,302.9 480.8,306.5 482.8,305.0 484.1,301.9 485.3,303.5 486.5,303.0 487.8,303.5 489.0,305.8 490.3,304.5 492.3,300.6 494.0,303.6 495.8,302.0 497.8,302.7 499.0,303.4 500.2,304.1 501.5,304.4 502.7,303.6 504.7,304.9 506.5,307.3 507.7,304.2 509.0,303.9 510.2,304.8 511.5,306.5 512.7,303.9 513.9,305.6 515.7,303.8 517.7,303.6 518.9,305.2 520.2,304.8 521.4,304.6 522.7,305.3 523.9,305.2 525.2,304.2 526.4,304.4 527.7,306.8 528.9,306.0 530.1,305.5 531.4,306.6 532.6,303.8 534.6,307.5 536.4,309.0 538.1,306.5 540.1,305.9 541.4,306.3 542.6,304.7 544.6,303.4 545.8,303.5 547.1,306.7 548.3,304.1 549.6,305.3 550.8,304.1 552.1,303.0 553.8,305.5 555.1,304.7 556.3,304.2 557.5,303.1 558.8,305.4 560.0,306.9 561.3,307.1 562.5,308.2 563.5,307.8" fill="none" stroke="#00f" stroke-width="1.2" stroke-linejoin="round"/>
</g>
<g clip-path="url(#cpd)">
<polyline points="88.5,476.9 91.0,477.6 93.5,476.1 95.5,476.1 97.2,470.7 99.0,475.2 100.9,476.1 102.9,478.6 104.7,476.9 106.4,485.6 108.4,483.6 110.9,480.1 113.4,479.4 115.9,480.1 117.9,477.6 119.6,476.9 121.4,473.2 123.4,471.9 125.4,470.2 127.1,473.2 128.9,470.2 130.8,467.7 132.8,471.2 134.6,474.4 136.3,478.1 138.3,476.1 140.3,475.2 142.1,471.9 143.8,470.2 145.8,468.7 147.8,467.7 149.5,464.4 151.3,466.2 152.8,466.9 154.5,463.2 155.8,461.2 157.0,459.5 158.2,460.7 159.5,462.7 160.7,458.7 162.7,455.2 164.5,452.0 166.2,452.7 168.2,455.2 170.2,454.5 171.9,457.0 173.7,454.5 175.7,452.7 177.7,448.2 179.4,449.5 181.2,447.0 183.2,452.7 185.2,448.7 186.9,447.0 188.6,446.3 190.1,442.8 191.9,441.3 193.6,439.5 195.6,438.3 197.6,437.8 199.4,437.8 201.1,438.3 203.1,439.5 205.1,440.3 206.8,439.5 208.6,438.3 210.6,438.8 213.1,437.8 215.0,437.0 218.5,438.3 220.9,437.8 223.4,437.0 225.4,433.8 227.2,434.5 228.9,437.0 230.9,438.8 232.9,437.8 234.6,435.8 235.9,433.8 237.1,436.3 238.9,437.0 240.4,430.3 242.1,425.8 243.4,418.4 244.6,409.6 245.9,417.1 247.1,424.6 248.4,430.8 250.3,432.1 252.1,428.8 253.8,432.1 255.8,434.5 257.8,432.1 259.6,431.3 261.3,428.8 263.3,425.3 265.3,420.3 266.3,418.9 267.8,424.6 269.5,430.8 271.3,435.3 272.8,437.0 274.5,435.3 276.3,433.8 277.7,427.8 278.7,430.3 280.7,430.3 283.2,429.6 285.7,428.8 287.7,429.6 289.5,428.3 291.2,428.8 293.2,425.8 295.2,422.1 296.9,420.3 298.7,418.9 300.7,418.9 302.7,420.3 304.4,422.8 306.1,420.3 307.6,418.9 309.4,422.8 311.1,423.3 313.1,420.3 315.1,420.3 316.9,423.8 318.6,425.3 320.6,427.1 322.6,425.3 324.3,424.6 326.1,423.8 328.1,423.3 330.1,422.8 331.8,420.8 333.6,422.8 335.5,422.1 337.2,419.6 339.0,422.1 340.9,425.8 342.9,425.3 345.4,423.8 347.9,423.3 349.7,422.1 350.9,419.6 352.2,416.4 353.4,412.9 354.2,410.9 355.4,417.1 356.4,420.3 358.4,419.6 360.9,418.9 363.4,420.3 365.4,420.8 367.1,421.3 368.9,422.1 370.8,420.8 372.8,422.8 374.6,424.6 375.8,428.3 377.1,428.8 378.3,427.1 379.6,422.1 380.8,418.9 382.1,418.4 383.3,421.3 385.3,419.6 387.0,418.9 388.8,420.8 390.8,423.8 392.8,427.1 394.5,426.3 396.3,425.3 398.2,423.8 399.7,421.3 400.7,425.3 401.5,428.3 402.7,423.3 404.5,419.6 406.2,418.4 408.2,418.9 410.2,419.6 411.9,418.9 413.7,418.9 415.2,420.3 416.9,421.3 418.7,422.1 420.7,421.3 422.7,422.8 424.4,420.3 425.7,418.9 427.6,418.9 430.1,418.9 431.9,419.6 433.6,419.6 435.6,420.3 437.6,421.3 439.4,422.8 441.1,423.3 443.1,423.8 445.1,423.3 446.8,421.3 449.2,422.8 450.9,423.8 452.9,422.8 454.9,422.1 456.6,422.8 458.4,423.8 460.4,424.6 462.4,425.3 464.1,427.1 465.9,428.3 467.9,429.6 469.9,430.3 471.6,428.3 472.8,425.8 474.1,424.6 475.3,425.8 476.6,428.3 477.8,430.3 479.1,432.1 480.3,429.6 481.6,427.1 482.8,428.3 484.8,427.8 486.5,428.8 487.8,431.3 489.0,433.3 490.3,434.5 491.5,433.3 493.3,432.1 495.3,432.8 497.3,431.3 499.0,432.8 500.2,434.5 501.5,432.1 502.7,428.3 504.0,427.1 505.2,429.6 506.5,432.1 507.7,433.8 509.7,434.5 511.5,435.3 513.2,436.3 515.2,437.0 517.7,437.8 520.2,438.3 522.7,437.8 525.2,437.8 527.7,438.3 530.1,438.8 532.6,438.8 535.1,439.5 537.6,440.3 538.9,440.3" fill="none" stroke="#000" stroke-width="1.45" stroke-linejoin="round"/>
<polyline points="120.4,453.7 121.6,448.2 122.9,442.0 123.9,445.8 124.6,450.7 125.9,445.8 126.6,442.8 128.4,445.8 130.3,448.2 131.6,457.0 132.8,466.9 134.6,470.7 135.8,469.4 137.8,468.7 139.6,471.9 140.8,464.4 142.1,457.0 143.3,450.2 144.5,453.7 145.8,448.2 147.0,443.8 149.5,443.3 152.0,443.3 154.5,444.5 156.3,448.7 157.7,457.0 159.2,466.2 160.7,461.9 162.7,456.2 164.5,450.7 166.2,447.0 168.2,441.3 170.7,440.3 174.4,439.5 178.2,438.8 181.9,438.3 184.4,437.8 185.7,440.3 186.9,444.5 188.1,442.0 190.6,442.8 192.6,441.3 194.4,438.8 196.1,438.8 198.1,441.3 200.1,438.3 201.8,439.5 203.6,439.5 205.6,441.3 207.6,438.8 209.3,439.5 211.8,438.3 214.3,438.8 216.8,437.8 219.7,438.3 223.4,438.3 227.2,438.3 230.9,438.3 234.6,437.8 238.4,437.8 242.1,438.3 245.9,437.8 249.6,438.3 250.8,436.3 252.8,438.3 255.8,437.8 258.3,438.3 262.1,437.8 265.8,438.3 269.5,438.3 273.3,437.8 275.8,437.0 278.2,436.3 280.7,435.8 283.2,435.3 285.7,435.3 288.2,435.8 290.7,437.0 292.7,438.3 294.4,437.8 296.9,438.3 299.4,437.8 301.9,437.8 303.7,436.3 305.2,433.8 306.4,435.8 308.1,438.3 310.1,435.3 311.9,432.8 313.1,430.8 314.4,433.8 315.6,437.0 317.6,438.3 320.1,438.3 322.6,437.8 324.3,435.8 325.6,434.5 326.8,437.0 328.1,435.8 329.3,433.3 330.6,431.3 333.1,430.8 335.5,431.3 337.2,431.3 339.7,432.8 341.4,435.8 343.4,437.0 345.9,438.3 348.4,438.3 350.4,436.3 351.7,429.6 352.9,427.8 354.6,428.3 356.4,427.1 358.4,427.1 359.6,428.8 360.9,432.1 362.9,436.3 364.6,437.8 365.9,434.5 367.1,437.0 369.6,438.3 372.1,438.3 374.6,437.0 376.3,435.8 377.8,434.5 378.8,435.8 380.3,431.3 382.1,428.3 383.8,429.6 385.8,433.3 388.3,436.3 390.8,437.8 393.3,438.3 395.8,437.8 398.2,437.0 400.2,435.8 402.0,437.0 403.7,435.3 405.7,433.3 407.0,431.3 408.2,434.5 410.2,436.3 412.7,437.8 415.7,437.8 419.4,437.8 423.2,437.8 425.7,436.3 427.6,433.8 429.4,431.3 430.6,430.3 432.6,433.3 434.4,435.3 436.9,437.0 439.4,438.3 441.8,438.8 444.3,438.3 446.8,437.8 449.2,436.3 450.9,434.5 452.9,433.8 454.9,435.3 456.6,435.8 458.4,435.3 459.9,436.3 461.6,437.0 464.1,437.8 466.6,437.8 469.1,437.8 471.6,437.8 473.3,437.0" fill="none" stroke="#f00" stroke-width="1.45" stroke-linejoin="round"/>
<polyline points="459.1,435.4 460.9,436.9 462.9,433.7 464.9,436.7 466.6,435.1 468.4,434.3 470.4,437.0 472.3,434.7 474.1,433.8 475.8,432.7 477.3,431.3 479.1,432.0 480.8,433.3 482.8,431.2 484.8,433.0 486.5,433.4 488.3,433.3 490.3,432.4 492.3,431.3 494.0,431.8 495.8,431.2 497.8,431.8 499.7,432.9 501.5,433.3 502.7,435.1 504.0,436.0 505.2,436.7 506.5,435.5 507.7,435.9 509.0,435.8 510.2,436.5 511.5,436.5 512.7,437.1 513.9,438.1 515.2,437.2 516.4,438.0 517.7,437.9 518.9,437.7 520.2,437.5 521.4,437.2 522.7,437.7 523.9,437.7 525.2,437.3 526.4,436.9 527.7,437.2 528.9,437.8 530.1,437.8 531.4,438.5 532.6,437.8 533.9,438.0 535.1,438.0 536.4,437.8 537.6,438.8 538.9,437.7 540.1,438.2 541.4,438.2 542.6,438.7 543.8,437.8 545.1,438.5 546.3,438.1 547.6,438.2 548.8,438.1 550.1,438.2 551.3,437.5 552.6,437.8 553.8,437.9 555.1,437.9 556.3,436.4 557.5,437.4 558.8,437.3 560.0,436.3 561.3,435.9 562.5,435.2 563.5,434.5" fill="none" stroke="#00f" stroke-width="1.4" stroke-linejoin="round"/>
<polyline points="459.1,435.3 460.9,436.3 462.9,434.1 464.9,436.1 466.6,436.2 468.4,435.0 470.4,436.9 472.3,433.7 474.1,433.9 475.8,431.3 477.3,429.5 479.1,431.9 480.8,433.0 482.8,432.5 484.8,433.8 486.5,436.0 488.3,435.4 490.3,432.2 492.3,433.0 494.0,431.4 495.8,430.8 497.8,433.4 499.7,432.6 501.5,432.6 502.7,435.5 504.0,435.5 505.2,434.9 506.5,435.4 507.7,435.7 509.0,436.3 510.2,436.6 511.5,437.1 512.7,437.8 513.9,437.6 515.2,437.6 516.4,437.7 517.7,438.0 518.9,437.6 520.2,437.7 521.4,436.8 522.7,437.2 523.9,437.8 525.2,437.2 526.4,436.9 527.7,437.5 528.9,437.9 530.1,438.1 531.4,438.2 532.6,438.6 533.9,438.4 535.1,438.2 536.4,438.5 537.6,438.1 538.9,438.3 540.1,438.4 541.4,438.3 542.6,438.2 543.8,438.4 545.1,438.2 546.3,438.2 547.6,438.1 548.8,438.5 550.1,437.9 551.3,438.0 552.6,437.9 553.8,437.7 555.1,437.5 556.3,437.1 557.5,437.1 558.8,436.8 560.0,436.4 561.3,436.0 562.5,435.4 563.5,434.5" fill="none" stroke="#00f" stroke-width="1.3" stroke-linejoin="round"/>
</g>
<rect x="88.5" y="39.5" width="475.0" height="58.0" fill="none" stroke="#000" stroke-width="1.0"/>
<rect x="88.5" y="113.5" width="475.0" height="118.0" fill="none" stroke="#000" stroke-width="1.0"/>
<rect x="88.5" y="246.5" width="475.0" height="118.0" fill="none" stroke="#000" stroke-width="1.0"/>
<rect x="88.5" y="379.5" width="475.0" height="118.0" fill="none" stroke="#000" stroke-width="1.0"/>
<path d="M100.50,39.50L100.50,33.10M119.50,39.50L119.50,35.90M137.50,39.50L137.50,35.90M155.50,39.50L155.50,35.90M173.50,39.50L173.50,35.90M192.50,39.50L192.50,33.10M210.50,39.50L210.50,35.90M228.50,39.50L228.50,35.90M246.50,39.50L246.50,35.90M265.50,39.50L265.50,35.90M283.50,39.50L283.50,33.10M301.50,39.50L301.50,35.90M319.50,39.50L319.50,35.90M337.50,39.50L337.50,35.90M356.50,39.50L356.50,35.90M374.50,39.50L374.50,33.10M392.50,39.50L392.50,35.90M410.50,39.50L410.50,35.90M429.50,39.50L429.50,35.90M447.50,39.50L447.50,35.90M465.50,39.50L465.50,33.10M483.50,39.50L483.50,35.90M502.50,39.50L502.50,35.90M520.50,39.50L520.50,35.90M538.50,39.50L538.50,35.90M556.50,39.50L556.50,33.10M96.50,97.50L96.50,101.10M109.50,97.50L109.50,101.10M121.50,97.50L121.50,101.10M133.50,97.50L133.50,103.90M145.50,97.50L145.50,101.10M157.50,97.50L157.50,101.10M170.50,97.50L170.50,101.10M182.50,97.50L182.50,103.90M194.50,97.50L194.50,101.10M206.50,97.50L206.50,101.10M218.50,97.50L218.50,101.10M231.50,97.50L231.50,103.90M243.50,97.50L243.50,101.10M255.50,97.50L255.50,101.10M267.50,97.50L267.50,101.10M279.50,97.50L279.50,103.90M292.50,97.50L292.50,101.10M304.50,97.50L304.50,101.10M316.50,97.50L316.50,101.10M328.50,97.50L328.50,103.90M341.50,97.50L341.50,101.10M353.50,97.50L353.50,101.10M365.50,97.50L365.50,101.10M377.50,97.50L377.50,103.90M389.50,97.50L389.50,101.10M402.50,97.50L402.50,101.10M414.50,97.50L414.50,101.10M426.50,97.50L426.50,103.90M438.50,97.50L438.50,101.10M450.50,97.50L450.50,101.10M463.50,97.50L463.50,101.10M475.50,97.50L475.50,103.90M487.50,97.50L487.50,101.10M499.50,97.50L499.50,101.10M511.50,97.50L511.50,101.10M524.50,97.50L524.50,103.90M536.50,97.50L536.50,101.10M548.50,97.50L548.50,101.10M560.50,97.50L560.50,101.10M88.50,97.50L82.10,97.50M563.50,97.50L569.90,97.50M88.50,94.50L84.90,94.50M563.50,94.50L567.10,94.50M88.50,90.50L84.90,90.50M563.50,90.50L567.10,90.50M88.50,86.50L84.90,86.50M563.50,86.50L567.10,86.50M88.50,83.50L82.10,83.50M563.50,83.50L569.90,83.50M88.50,79.50L84.90,79.50M563.50,79.50L567.10,79.50M88.50,75.50L84.90,75.50M563.50,75.50L567.10,75.50M88.50,72.50L84.90,72.50M563.50,72.50L567.10,72.50M88.50,68.50L82.10,68.50M563.50,68.50L569.90,68.50M88.50,64.50L84.90,64.50M563.50,64.50L567.10,64.50M88.50,61.50L84.90,61.50M563.50,61.50L567.10,61.50M88.50,57.50L84.90,57.50M563.50,57.50L567.10,57.50M88.50,53.50L82.10,53.50M563.50,53.50L569.90,53.50M88.50,50.50L84.90,50.50M563.50,50.50L567.10,50.50M88.50,46.50L84.90,46.50M563.50,46.50L567.10,46.50M88.50,42.50L84.90,42.50M563.50,42.50L567.10,42.50M88.50,39.50L82.10,39.50M563.50,39.50L569.90,39.50M100.50,113.50L100.50,107.10M119.50,113.50L119.50,109.90M137.50,113.50L137.50,109.90M155.50,113.50L155.50,109.90M173.50,113.50L173.50,109.90M192.50,113.50L192.50,107.10M210.50,113.50L210.50,109.90M228.50,113.50L228.50,109.90M246.50,113.50L246.50,109.90M265.50,113.50L265.50,109.90M283.50,113.50L283.50,107.10M301.50,113.50L301.50,109.90M319.50,113.50L319.50,109.90M337.50,113.50L337.50,109.90M356.50,113.50L356.50,109.90M374.50,113.50L374.50,107.10M392.50,113.50L392.50,109.90M410.50,113.50L410.50,109.90M429.50,113.50L429.50,109.90M447.50,113.50L447.50,109.90M465.50,113.50L465.50,107.10M483.50,113.50L483.50,109.90M502.50,113.50L502.50,109.90M520.50,113.50L520.50,109.90M538.50,113.50L538.50,109.90M556.50,113.50L556.50,107.10M96.50,231.50L96.50,235.10M109.50,231.50L109.50,235.10M121.50,231.50L121.50,235.10M133.50,231.50L133.50,237.90M145.50,231.50L145.50,235.10M157.50,231.50L157.50,235.10M170.50,231.50L170.50,235.10M182.50,231.50L182.50,237.90M194.50,231.50L194.50,235.10M206.50,231.50L206.50,235.10M218.50,231.50L218.50,235.10M231.50,231.50L231.50,237.90M243.50,231.50L243.50,235.10M255.50,231.50L255.50,235.10M267.50,231.50L267.50,235.10M279.50,231.50L279.50,237.90M292.50,231.50L292.50,235.10M304.50,231.50L304.50,235.10M316.50,231.50L316.50,235.10M328.50,231.50L328.50,237.90M341.50,231.50L341.50,235.10M353.50,231.50L353.50,235.10M365.50,231.50L365.50,235.10M377.50,231.50L377.50,237.90M389.50,231.50L389.50,235.10M402.50,231.50L402.50,235.10M414.50,231.50L414.50,235.10M426.50,231.50L426.50,237.90M438.50,231.50L438.50,235.10M450.50,231.50L450.50,235.10M463.50,231.50L463.50,235.10M475.50,231.50L475.50,237.90M487.50,231.50L487.50,235.10M499.50,231.50L499.50,235.10M511.50,231.50L511.50,235.10M524.50,231.50L524.50,237.90M536.50,231.50L536.50,235.10M548.50,231.50L548.50,235.10M560.50,231.50L560.50,235.10M88.50,231.50L82.10,231.50M563.50,231.50L569.90,231.50M88.50,223.50L84.90,223.50M563.50,223.50L567.10,223.50M88.50,216.50L84.90,216.50M563.50,216.50L567.10,216.50M88.50,209.50L84.90,209.50M563.50,209.50L567.10,209.50M88.50,201.50L82.10,201.50M563.50,201.50L569.90,201.50M88.50,194.50L84.90,194.50M563.50,194.50L567.10,194.50M88.50,186.50L84.90,186.50M563.50,186.50L567.10,186.50M88.50,179.50L84.90,179.50M563.50,179.50L567.10,179.50M88.50,172.50L82.10,172.50M563.50,172.50L569.90,172.50M88.50,164.50L84.90,164.50M563.50,164.50L567.10,164.50M88.50,157.50L84.90,157.50M563.50,157.50L567.10,157.50M88.50,150.50L84.90,150.50M563.50,150.50L567.10,150.50M88.50,142.50L82.10,142.50M563.50,142.50L569.90,142.50M88.50,135.50L84.90,135.50M563.50,135.50L567.10,135.50M88.50,128.50L84.90,128.50M563.50,128.50L567.10,128.50M88.50,120.50L84.90,120.50M563.50,120.50L567.10,120.50M88.50,113.50L82.10,113.50M563.50,113.50L569.90,113.50M100.50,246.50L100.50,240.10M119.50,246.50L119.50,242.90M137.50,246.50L137.50,242.90M155.50,246.50L155.50,242.90M173.50,246.50L173.50,242.90M192.50,246.50L192.50,240.10M210.50,246.50L210.50,242.90M228.50,246.50L228.50,242.90M246.50,246.50L246.50,242.90M265.50,246.50L265.50,242.90M283.50,246.50L283.50,240.10M301.50,246.50L301.50,242.90M319.50,246.50L319.50,242.90M337.50,246.50L337.50,242.90M356.50,246.50L356.50,242.90M374.50,246.50L374.50,240.10M392.50,246.50L392.50,242.90M410.50,246.50L410.50,242.90M429.50,246.50L429.50,242.90M447.50,246.50L447.50,242.90M465.50,246.50L465.50,240.10M483.50,246.50L483.50,242.90M502.50,246.50L502.50,242.90M520.50,246.50L520.50,242.90M538.50,246.50L538.50,242.90M556.50,246.50L556.50,240.10M96.50,364.50L96.50,368.10M109.50,364.50L109.50,368.10M121.50,364.50L121.50,368.10M133.50,364.50L133.50,370.90M145.50,364.50L145.50,368.10M157.50,364.50L157.50,368.10M170.50,364.50L170.50,368.10M182.50,364.50L182.50,370.90M194.50,364.50L194.50,368.10M206.50,364.50L206.50,368.10M218.50,364.50L218.50,368.10M231.50,364.50L231.50,370.90M243.50,364.50L243.50,368.10M255.50,364.50L255.50,368.10M267.50,364.50L267.50,368.10M279.50,364.50L279.50,370.90M292.50,364.50L292.50,368.10M304.50,364.50L304.50,368.10M316.50,364.50L316.50,368.10M328.50,364.50L328.50,370.90M341.50,364.50L341.50,368.10M353.50,364.50L353.50,368.10M365.50,364.50L365.50,368.10M377.50,364.50L377.50,370.90M389.50,364.50L389.50,368.10M402.50,364.50L402.50,368.10M414.50,364.50L414.50,368.10M426.50,364.50L426.50,370.90M438.50,364.50L438.50,368.10M450.50,364.50L450.50,368.10M463.50,364.50L463.50,368.10M475.50,364.50L475.50,370.90M487.50,364.50L487.50,368.10M499.50,364.50L499.50,368.10M511.50,364.50L511.50,368.10M524.50,364.50L524.50,370.90M536.50,364.50L536.50,368.10M548.50,364.50L548.50,368.10M560.50,364.50L560.50,368.10M88.50,364.50L82.10,364.50M563.50,364.50L569.90,364.50M88.50,356.50L84.90,356.50M563.50,356.50L567.10,356.50M88.50,349.50L84.90,349.50M563.50,349.50L567.10,349.50M88.50,342.50L84.90,342.50M563.50,342.50L567.10,342.50M88.50,334.50L82.10,334.50M563.50,334.50L569.90,334.50M88.50,327.50L84.90,327.50M563.50,327.50L567.10,327.50M88.50,319.50L84.90,319.50M563.50,319.50L567.10,319.50M88.50,312.50L84.90,312.50M563.50,312.50L567.10,312.50M88.50,305.50L82.10,305.50M563.50,305.50L569.90,305.50M88.50,297.50L84.90,297.50M563.50,297.50L567.10,297.50M88.50,290.50L84.90,290.50M563.50,290.50L567.10,290.50M88.50,283.50L84.90,283.50M563.50,283.50L567.10,283.50M88.50,275.50L82.10,275.50M563.50,275.50L569.90,275.50M88.50,268.50L84.90,268.50M563.50,268.50L567.10,268.50M88.50,261.50L84.90,261.50M563.50,261.50L567.10,261.50M88.50,253.50L84.90,253.50M563.50,253.50L567.10,253.50M88.50,246.50L82.10,246.50M563.50,246.50L569.90,246.50M100.50,379.50L100.50,373.10M119.50,379.50L119.50,375.90M137.50,379.50L137.50,375.90M155.50,379.50L155.50,375.90M173.50,379.50L173.50,375.90M192.50,379.50L192.50,373.10M210.50,379.50L210.50,375.90M228.50,379.50L228.50,375.90M246.50,379.50L246.50,375.90M265.50,379.50L265.50,375.90M283.50,379.50L283.50,373.10M301.50,379.50L301.50,375.90M319.50,379.50L319.50,375.90M337.50,379.50L337.50,375.90M356.50,379.50L356.50,375.90M374.50,379.50L374.50,373.10M392.50,379.50L392.50,375.90M410.50,379.50L410.50,375.90M429.50,379.50L429.50,375.90M447.50,379.50L447.50,375.90M465.50,379.50L465.50,373.10M483.50,379.50L483.50,375.90M502.50,379.50L502.50,375.90M520.50,379.50L520.50,375.90M538.50,379.50L538.50,375.90M556.50,379.50L556.50,373.10M96.50,497.50L96.50,501.10M109.50,497.50L109.50,501.10M121.50,497.50L121.50,501.10M133.50,497.50L133.50,503.90M145.50,497.50L145.50,501.10M157.50,497.50L157.50,501.10M170.50,497.50L170.50,501.10M182.50,497.50L182.50,503.90M194.50,497.50L194.50,501.10M206.50,497.50L206.50,501.10M218.50,497.50L218.50,501.10M231.50,497.50L231.50,503.90M243.50,497.50L243.50,501.10M255.50,497.50L255.50,501.10M267.50,497.50L267.50,501.10M279.50,497.50L279.50,503.90M292.50,497.50L292.50,501.10M304.50,497.50L304.50,501.10M316.50,497.50L316.50,501.10M328.50,497.50L328.50,503.90M341.50,497.50L341.50,501.10M353.50,497.50L353.50,501.10M365.50,497.50L365.50,501.10M377.50,497.50L377.50,503.90M389.50,497.50L389.50,501.10M402.50,497.50L402.50,501.10M414.50,497.50L414.50,501.10M426.50,497.50L426.50,503.90M438.50,497.50L438.50,501.10M450.50,497.50L450.50,501.10M463.50,497.50L463.50,501.10M475.50,497.50L475.50,503.90M487.50,497.50L487.50,501.10M499.50,497.50L499.50,501.10M511.50,497.50L511.50,501.10M524.50,497.50L524.50,503.90M536.50,497.50L536.50,501.10M548.50,497.50L548.50,501.10M560.50,497.50L560.50,501.10M88.50,497.50L82.10,497.50M563.50,497.50L569.90,497.50M88.50,489.50L84.90,489.50M563.50,489.50L567.10,489.50M88.50,482.50L84.90,482.50M563.50,482.50L567.10,482.50M88.50,475.50L84.90,475.50M563.50,475.50L567.10,475.50M88.50,467.50L82.10,467.50M563.50,467.50L569.90,467.50M88.50,460.50L84.90,460.50M563.50,460.50L567.10,460.50M88.50,452.50L84.90,452.50M563.50,452.50L567.10,452.50M88.50,445.50L84.90,445.50M563.50,445.50L567.10,445.50M88.50,438.50L82.10,438.50M563.50,438.50L569.90,438.50M88.50,430.50L84.90,430.50M563.50,430.50L567.10,430.50M88.50,423.50L84.90,423.50M563.50,423.50L567.10,423.50M88.50,416.50L84.90,416.50M563.50,416.50L567.10,416.50M88.50,408.50L82.10,408.50M563.50,408.50L569.90,408.50M88.50,401.50L84.90,401.50M563.50,401.50L567.10,401.50M88.50,394.50L84.90,394.50M563.50,394.50L567.10,394.50M88.50,386.50L84.90,386.50M563.50,386.50L567.10,386.50M88.50,379.50L82.10,379.50M563.50,379.50L569.90,379.50" stroke="#000" stroke-width="1.0" fill="none" stroke-linecap="butt"/>
<text x="100.88" y="25.20" font-size="13.4" text-anchor="middle" fill="#000">1900</text>
<text x="192.07" y="25.20" font-size="13.4" text-anchor="middle" fill="#000">1950</text>
<text x="283.26" y="25.20" font-size="13.4" text-anchor="middle" fill="#000">2000</text>
<text x="374.45" y="25.20" font-size="13.4" text-anchor="middle" fill="#000">2050</text>
<text x="465.64" y="25.20" font-size="13.4" text-anchor="middle" fill="#000">2100</text>
<text x="556.83" y="25.20" font-size="13.4" text-anchor="middle" fill="#000">2150</text>
<text x="133.51" y="518.00" font-size="13.4" text-anchor="middle" fill="#000">1997</text>
<text x="182.33" y="518.00" font-size="13.4" text-anchor="middle" fill="#000">1999</text>
<text x="231.16" y="518.00" font-size="13.4" text-anchor="middle" fill="#000">2001</text>
<text x="279.98" y="518.00" font-size="13.4" text-anchor="middle" fill="#000">2003</text>
<text x="328.81" y="518.00" font-size="13.4" text-anchor="middle" fill="#000">2005</text>
<text x="377.63" y="518.00" font-size="13.4" text-anchor="middle" fill="#000">2007</text>
<text x="426.45" y="518.00" font-size="13.4" text-anchor="middle" fill="#000">2009</text>
<text x="475.28" y="518.00" font-size="13.4" text-anchor="middle" fill="#000">2011</text>
<text x="524.10" y="518.00" font-size="13.4" text-anchor="middle" fill="#000">2013</text>
<text x="77.20" y="100.70" font-size="13.4" text-anchor="end" fill="#000">0</text>
<text x="77.20" y="86.70" font-size="13.4" text-anchor="end" fill="#000">25</text>
<text x="77.20" y="71.70" font-size="13.4" text-anchor="end" fill="#000">50</text>
<text x="77.20" y="56.70" font-size="13.4" text-anchor="end" fill="#000">75</text>
<text x="77.20" y="42.70" font-size="13.4" text-anchor="end" fill="#000">100</text>
<text x="77.20" y="116.70" font-size="13.4" text-anchor="end" fill="#000">0.4</text>
<text x="77.20" y="145.70" font-size="13.4" text-anchor="end" fill="#000">0.2</text>
<text x="77.20" y="175.70" font-size="13.4" text-anchor="end" fill="#000">0.0</text>
<text x="77.20" y="204.70" font-size="13.4" text-anchor="end" fill="#000" textLength="26.3" lengthAdjust="spacingAndGlyphs">−0.2</text>
<text x="77.20" y="234.70" font-size="13.4" text-anchor="end" fill="#000" textLength="26.3" lengthAdjust="spacingAndGlyphs">−0.4</text>
<text x="77.20" y="249.70" font-size="13.4" text-anchor="end" fill="#000">0.4</text>
<text x="77.20" y="278.70" font-size="13.4" text-anchor="end" fill="#000">0.2</text>
<text x="77.20" y="308.70" font-size="13.4" text-anchor="end" fill="#000">0.0</text>
<text x="77.20" y="337.70" font-size="13.4" text-anchor="end" fill="#000" textLength="26.3" lengthAdjust="spacingAndGlyphs">−0.2</text>
<text x="77.20" y="367.70" font-size="13.4" text-anchor="end" fill="#000" textLength="26.3" lengthAdjust="spacingAndGlyphs">−0.4</text>
<text x="77.20" y="382.70" font-size="13.4" text-anchor="end" fill="#000">0.4</text>
<text x="77.20" y="411.70" font-size="13.4" text-anchor="end" fill="#000">0.2</text>
<text x="77.20" y="441.70" font-size="13.4" text-anchor="end" fill="#000">0.0</text>
<text x="77.20" y="470.70" font-size="13.4" text-anchor="end" fill="#000" textLength="26.3" lengthAdjust="spacingAndGlyphs">−0.2</text>
<text x="77.20" y="500.70" font-size="13.4" text-anchor="end" fill="#000" textLength="26.3" lengthAdjust="spacingAndGlyphs">−0.4</text>
<text x="325.60" y="9.50" font-size="13.2" text-anchor="middle" fill="#000" textLength="166.3" lengthAdjust="spacingAndGlyphs">Carrington Rotation Number</text>
<text x="326.10" y="535.80" font-size="13.2" text-anchor="middle" fill="#000" textLength="25.8" lengthAdjust="spacingAndGlyphs">Year</text>
<text transform="translate(21.70,68.90) rotate(-90)" x="0" y="0" font-size="13.0" text-anchor="middle" fill="#000" textLength="48.6" lengthAdjust="spacingAndGlyphs">Monthly</text>
<text transform="translate(34.80,69.60) rotate(-90)" x="0" y="0" font-size="13.0" text-anchor="middle" fill="#000" textLength="46.6" lengthAdjust="spacingAndGlyphs">Sunspot</text>
<text transform="translate(47.70,69.00) rotate(-90)" x="0" y="0" font-size="13.0" text-anchor="middle" fill="#000" textLength="46.0" lengthAdjust="spacingAndGlyphs">Number</text>
<text transform="translate(10.80,171.25) rotate(-90)" x="0" y="0" font-size="13.0" text-anchor="middle" fill="#000" textLength="61.3" lengthAdjust="spacingAndGlyphs">[55:90] NP</text>
<text transform="translate(24.00,171.96) rotate(-90)" x="0" y="0" font-size="13.0" text-anchor="middle" fill="#000" textLength="104.0" lengthAdjust="spacingAndGlyphs">Signed Open Flux</text>
<text transform="translate(39.80,171.26) rotate(-90)" x="0" y="0" font-size="13.0" text-anchor="middle" fill="#000" textLength="54.3" lengthAdjust="spacingAndGlyphs">(10<tspan font-size="8.7" dy="-4.6">23</tspan><tspan dy="4.6">Mx)</tspan></text>
<text transform="translate(10.80,302.90) rotate(-90)" x="0" y="0" font-size="13.0" text-anchor="middle" fill="#000" textLength="66.2" lengthAdjust="spacingAndGlyphs">[-55:55] LL</text>
<text transform="translate(24.00,304.96) rotate(-90)" x="0" y="0" font-size="13.0" text-anchor="middle" fill="#000" textLength="104.0" lengthAdjust="spacingAndGlyphs">Signed Open Flux</text>
<text transform="translate(39.80,304.26) rotate(-90)" x="0" y="0" font-size="13.0" text-anchor="middle" fill="#000" textLength="54.3" lengthAdjust="spacingAndGlyphs">(10<tspan font-size="8.7" dy="-4.6">23</tspan><tspan dy="4.6">Mx)</tspan></text>
<text transform="translate(10.80,436.50) rotate(-90)" x="0" y="0" font-size="13.0" text-anchor="middle" fill="#000" textLength="64.8" lengthAdjust="spacingAndGlyphs">[-90:−55] SP</text>
<text transform="translate(24.00,437.96) rotate(-90)" x="0" y="0" font-size="13.0" text-anchor="middle" fill="#000" textLength="104.0" lengthAdjust="spacingAndGlyphs">Signed Open Flux</text>
<text transform="translate(39.80,437.26) rotate(-90)" x="0" y="0" font-size="13.0" text-anchor="middle" fill="#000" textLength="54.3" lengthAdjust="spacingAndGlyphs">(10<tspan font-size="8.7" dy="-4.6">23</tspan><tspan dy="4.6">Mx)</tspan></text>
<path d="M100.90,54.35H99.35V65.15H100.90M107.20,54.35H108.75V65.15H107.20" fill="none" stroke="#222" stroke-width="0.9"/>
<text x="104.05" y="62.60" font-size="12.0" text-anchor="middle" fill="#222">a</text>
<path d="M100.90,199.25H99.35V210.05H100.90M108.00,199.25H109.55V210.05H108.00" fill="none" stroke="#222" stroke-width="0.9"/>
<text x="104.45" y="207.50" font-size="12.0" text-anchor="middle" fill="#222">b</text>
<path d="M100.90,261.75H99.35V272.55H100.90M107.20,261.75H108.75V272.55H107.20" fill="none" stroke="#222" stroke-width="0.9"/>
<text x="104.05" y="270.00" font-size="12.0" text-anchor="middle" fill="#222">c</text>
<path d="M100.90,395.05H99.35V405.85H100.90M108.20,395.05H109.75V405.85H108.20" fill="none" stroke="#222" stroke-width="0.9"/>
<text x="104.55" y="403.30" font-size="12.0" text-anchor="middle" fill="#222">d</text>
<line x1="466" y1="124.5" x2="478.8" y2="124.5" stroke="#000" stroke-width="1.2"/>
<text x="487.60" y="127.50" font-size="8.6" text-anchor="start" fill="#000" textLength="24.2" lengthAdjust="spacingAndGlyphs">WSO</text>
<line x1="466" y1="135.5" x2="478.8" y2="135.5" stroke="#f00" stroke-width="1.2"/>
<text x="487.60" y="139.00" font-size="8.6" text-anchor="start" fill="#000" textLength="36.8" lengthAdjust="spacingAndGlyphs">EIT CH</text>
<line x1="466" y1="148.2" x2="478.8" y2="148.2" stroke="#00f" stroke-width="1.2"/>
<text x="487.60" y="151.40" font-size="8.6" text-anchor="start" fill="#000" textLength="69.6" lengthAdjust="spacingAndGlyphs">AIA/EUVI CH</text>
<line x1="490.9" y1="257.4" x2="503.8" y2="257.4" stroke="#000" stroke-width="1.3"/>
<line x1="490.9" y1="269.9" x2="503.8" y2="269.9" stroke="#000" stroke-width="1.3" stroke-dasharray="2.6 1.9"/>
<text x="513.20" y="260.80" font-size="8.6" text-anchor="start" fill="#000" textLength="43.0" lengthAdjust="spacingAndGlyphs">LL North</text>
<text x="513.20" y="272.70" font-size="8.6" text-anchor="start" fill="#000" textLength="43.0" lengthAdjust="spacingAndGlyphs">LL South</text>
</svg>
</body></html>
